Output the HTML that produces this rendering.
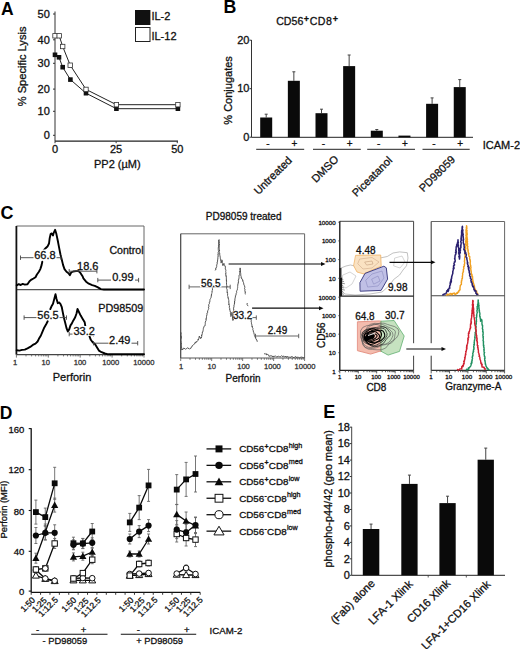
<!DOCTYPE html>
<html><head><meta charset="utf-8"><style>
html,body{margin:0;padding:0;background:#fff;width:520px;height:649px;overflow:hidden}
svg{display:block}
text{font-family:"Liberation Sans", sans-serif;stroke-width:0.3px;stroke-linejoin:round}
</style></head><body>
<svg width="520" height="649" viewBox="0 0 520 649" font-family='"Liberation Sans", sans-serif'>
<rect width="520" height="649" fill="#fff"/>
<text x="1.10" y="14.95" font-size="17.5" text-anchor="start" font-weight="bold" fill="#000" stroke="none">A</text>
<line x1="55" y1="11.5" x2="55" y2="141.2" stroke="#333" stroke-width="1"/>
<line x1="55" y1="141.2" x2="178" y2="141.2" stroke="#222" stroke-width="1.2"/>
<line x1="53" y1="135.3" x2="55" y2="135.3" stroke="#333" stroke-width="1"/>
<text x="49.85" y="139.20" font-size="11" text-anchor="end" font-weight="normal" fill="#111" stroke="#111">0</text>
<line x1="53" y1="111.3" x2="55" y2="111.3" stroke="#333" stroke-width="1"/>
<text x="49.85" y="115.20" font-size="11" text-anchor="end" font-weight="normal" fill="#111" stroke="#111">10</text>
<line x1="53" y1="89.1" x2="55" y2="89.1" stroke="#333" stroke-width="1"/>
<text x="49.85" y="93.00" font-size="11" text-anchor="end" font-weight="normal" fill="#111" stroke="#111">20</text>
<line x1="53" y1="63.3" x2="55" y2="63.3" stroke="#333" stroke-width="1"/>
<text x="49.85" y="67.20" font-size="11" text-anchor="end" font-weight="normal" fill="#111" stroke="#111">30</text>
<line x1="53" y1="39.8" x2="55" y2="39.8" stroke="#333" stroke-width="1"/>
<text x="49.85" y="43.70" font-size="11" text-anchor="end" font-weight="normal" fill="#111" stroke="#111">40</text>
<line x1="53" y1="14.0" x2="55" y2="14.0" stroke="#333" stroke-width="1"/>
<text x="49.85" y="17.90" font-size="11" text-anchor="end" font-weight="normal" fill="#111" stroke="#111">50</text>
<line x1="55.0" y1="141.2" x2="55.0" y2="143.2" stroke="#333" stroke-width="1"/>
<text x="55.00" y="152.60" font-size="11" text-anchor="middle" font-weight="normal" fill="#111" stroke="#111">0</text>
<line x1="116.125" y1="141.2" x2="116.125" y2="143.2" stroke="#333" stroke-width="1"/>
<text x="116.12" y="152.60" font-size="11" text-anchor="middle" font-weight="normal" fill="#111" stroke="#111">25</text>
<line x1="177.25" y1="141.2" x2="177.25" y2="143.2" stroke="#333" stroke-width="1"/>
<text x="177.25" y="152.60" font-size="11" text-anchor="middle" font-weight="normal" fill="#111" stroke="#111">50</text>
<text x="117.30" y="167.80" font-size="11" text-anchor="middle" font-weight="normal" fill="#111" stroke="#111">PP2 (&#181;M)</text>
<text x="25.55" y="66.40" font-size="11.1" text-anchor="middle" font-weight="normal" fill="#111" stroke="#111" transform="rotate(-90 25.55 66.40)">% Specific Lysis</text>
<polyline points="55.0,35.8 59.2,35.8 62.7,46.5 70.2,65.2 86.0,89.4 116.4,104.7 177.9,104.7" stroke="#222" stroke-width="1" fill="none" stroke-linejoin="round" stroke-linecap="round"/>
<polyline points="55.0,54.8 59.0,57.3 62.7,67.2 70.4,79.6 86.0,93.2 116.4,108.7 177.9,108.7" stroke="#222" stroke-width="1" fill="none" stroke-linejoin="round" stroke-linecap="round"/>
<rect x="52.7" y="52.5" width="4.6" height="4.6" fill="#111" stroke="none" stroke-width="1"/>
<rect x="56.7" y="55.0" width="4.6" height="4.6" fill="#111" stroke="none" stroke-width="1"/>
<rect x="60.400000000000006" y="64.9" width="4.6" height="4.6" fill="#111" stroke="none" stroke-width="1"/>
<rect x="68.10000000000001" y="77.3" width="4.6" height="4.6" fill="#111" stroke="none" stroke-width="1"/>
<rect x="83.7" y="90.9" width="4.6" height="4.6" fill="#111" stroke="none" stroke-width="1"/>
<rect x="114.10000000000001" y="106.4" width="4.6" height="4.6" fill="#111" stroke="none" stroke-width="1"/>
<rect x="175.6" y="106.4" width="4.6" height="4.6" fill="#111" stroke="none" stroke-width="1"/>
<rect x="52.8" y="33.599999999999994" width="4.4" height="4.4" fill="#fff" stroke="#333" stroke-width="0.8"/>
<rect x="57.0" y="33.599999999999994" width="4.4" height="4.4" fill="#fff" stroke="#333" stroke-width="0.8"/>
<rect x="60.5" y="44.3" width="4.4" height="4.4" fill="#fff" stroke="#333" stroke-width="0.8"/>
<rect x="68.0" y="63.0" width="4.4" height="4.4" fill="#fff" stroke="#333" stroke-width="0.8"/>
<rect x="83.8" y="87.2" width="4.4" height="4.4" fill="#fff" stroke="#333" stroke-width="0.8"/>
<rect x="114.2" y="102.5" width="4.4" height="4.4" fill="#fff" stroke="#333" stroke-width="0.8"/>
<rect x="175.70000000000002" y="102.5" width="4.4" height="4.4" fill="#fff" stroke="#333" stroke-width="0.8"/>
<rect x="135" y="10" width="15.4" height="15" fill="#111" stroke="none" stroke-width="1"/>
<rect x="135.5" y="27.5" width="14.5" height="14" fill="#fff" stroke="#222" stroke-width="1"/>
<text x="151.40" y="19.75" font-size="11" text-anchor="start" font-weight="normal" fill="#111" stroke="#111">IL-2</text>
<text x="151.45" y="39.55" font-size="11" text-anchor="start" font-weight="normal" fill="#111" stroke="#111">IL-12</text>
<text x="223.60" y="13.10" font-size="17.8" text-anchor="start" font-weight="bold" fill="#000" stroke="none">B</text>
<text x="276.2" y="25.3" font-size="10.6" fill="#111" stroke="#111">CD56<tspan font-size="9" font-weight="bold" dy="-3.4" dx="0.4">+</tspan><tspan dy="3.4" dx="0.7" letter-spacing="0.5">CD8</tspan><tspan font-size="9" font-weight="bold" dy="-3.4" dx="0.4">+</tspan></text>
<line x1="251.5" y1="40" x2="251.5" y2="137.3" stroke="#333" stroke-width="1"/>
<line x1="251.5" y1="137.3" x2="473" y2="137.3" stroke="#222" stroke-width="1"/>
<line x1="249.5" y1="137.2" x2="251.5" y2="137.2" stroke="#333" stroke-width="1"/>
<text x="249.45" y="140.90" font-size="11" text-anchor="end" font-weight="normal" fill="#111" stroke="#111">0</text>
<line x1="249.5" y1="88.69999999999999" x2="251.5" y2="88.69999999999999" stroke="#333" stroke-width="1"/>
<text x="249.45" y="92.40" font-size="11" text-anchor="end" font-weight="normal" fill="#111" stroke="#111">10</text>
<line x1="249.5" y1="40.19999999999999" x2="251.5" y2="40.19999999999999" stroke="#333" stroke-width="1"/>
<text x="249.45" y="43.90" font-size="11" text-anchor="end" font-weight="normal" fill="#111" stroke="#111">20</text>
<text x="232.10" y="90.40" font-size="11" text-anchor="middle" font-weight="normal" fill="#111" stroke="#111" transform="rotate(-90 232.10 90.40)">% Conjugates</text>
<line x1="266.2" y1="114.2" x2="266.2" y2="117.5" stroke="#444" stroke-width="1"/>
<line x1="264.7" y1="114.2" x2="267.7" y2="114.2" stroke="#444" stroke-width="1"/>
<rect x="260.2" y="117.5" width="12" height="19.80000000000001" fill="#0a0a0a" stroke="none" stroke-width="1"/>
<text x="268.00" y="146.60" font-size="10" text-anchor="middle" font-weight="normal" fill="#111" stroke="#111">-</text>
<line x1="293.84999999999997" y1="71.8" x2="293.84999999999997" y2="80.8" stroke="#444" stroke-width="1"/>
<line x1="292.34999999999997" y1="71.8" x2="295.34999999999997" y2="71.8" stroke="#444" stroke-width="1"/>
<rect x="287.84999999999997" y="80.8" width="12" height="56.500000000000014" fill="#0a0a0a" stroke="none" stroke-width="1"/>
<text x="294.35" y="146.60" font-size="10" text-anchor="middle" font-weight="normal" fill="#111" stroke="#111">+</text>
<line x1="321.5" y1="109.2" x2="321.5" y2="113.2" stroke="#444" stroke-width="1"/>
<line x1="320.0" y1="109.2" x2="323.0" y2="109.2" stroke="#444" stroke-width="1"/>
<rect x="315.5" y="113.2" width="12" height="24.10000000000001" fill="#0a0a0a" stroke="none" stroke-width="1"/>
<text x="323.30" y="146.60" font-size="10" text-anchor="middle" font-weight="normal" fill="#111" stroke="#111">-</text>
<line x1="349.15" y1="55" x2="349.15" y2="66.1" stroke="#444" stroke-width="1"/>
<line x1="347.65" y1="55" x2="350.65" y2="55" stroke="#444" stroke-width="1"/>
<rect x="343.15" y="66.1" width="12" height="71.20000000000002" fill="#0a0a0a" stroke="none" stroke-width="1"/>
<text x="349.65" y="146.60" font-size="10" text-anchor="middle" font-weight="normal" fill="#111" stroke="#111">+</text>
<line x1="376.79999999999995" y1="129.5" x2="376.79999999999995" y2="130.7" stroke="#444" stroke-width="1"/>
<line x1="375.29999999999995" y1="129.5" x2="378.29999999999995" y2="129.5" stroke="#444" stroke-width="1"/>
<rect x="370.79999999999995" y="130.7" width="12" height="6.600000000000023" fill="#0a0a0a" stroke="none" stroke-width="1"/>
<text x="378.60" y="146.60" font-size="10" text-anchor="middle" font-weight="normal" fill="#111" stroke="#111">-</text>
<rect x="398.45" y="135.6" width="12" height="1.700000000000017" fill="#0a0a0a" stroke="none" stroke-width="1"/>
<text x="404.95" y="146.60" font-size="10" text-anchor="middle" font-weight="normal" fill="#111" stroke="#111">+</text>
<line x1="432.09999999999997" y1="97.9" x2="432.09999999999997" y2="103.8" stroke="#444" stroke-width="1"/>
<line x1="430.59999999999997" y1="97.9" x2="433.59999999999997" y2="97.9" stroke="#444" stroke-width="1"/>
<rect x="426.09999999999997" y="103.8" width="12" height="33.500000000000014" fill="#0a0a0a" stroke="none" stroke-width="1"/>
<text x="433.90" y="146.60" font-size="10" text-anchor="middle" font-weight="normal" fill="#111" stroke="#111">-</text>
<line x1="459.75" y1="79.6" x2="459.75" y2="87.1" stroke="#444" stroke-width="1"/>
<line x1="458.25" y1="79.6" x2="461.25" y2="79.6" stroke="#444" stroke-width="1"/>
<rect x="453.75" y="87.1" width="12" height="50.20000000000002" fill="#0a0a0a" stroke="none" stroke-width="1"/>
<text x="460.25" y="146.60" font-size="10" text-anchor="middle" font-weight="normal" fill="#111" stroke="#111">+</text>
<line x1="256.2" y1="149.3" x2="304.2" y2="149.3" stroke="#222" stroke-width="1"/>
<line x1="313" y1="149.3" x2="360.8" y2="149.3" stroke="#222" stroke-width="1"/>
<line x1="367.2" y1="149.3" x2="415" y2="149.3" stroke="#222" stroke-width="1"/>
<line x1="422.5" y1="149.3" x2="469.7" y2="149.3" stroke="#222" stroke-width="1"/>
<text x="482.75" y="148.85" font-size="11" text-anchor="start" font-weight="normal" fill="#111" stroke="#111">ICAM-2</text>
<text x="292.55" y="161.15" font-size="11" text-anchor="end" font-weight="normal" fill="#111" stroke="#111" transform="rotate(-45 292.55 161.15)">Untreated</text>
<text x="339.25" y="160.00" font-size="11" text-anchor="end" font-weight="normal" fill="#111" stroke="#111" transform="rotate(-45 339.25 160.00)">DMSO</text>
<text x="392.90" y="161.00" font-size="11" text-anchor="end" font-weight="normal" fill="#111" stroke="#111" transform="rotate(-45 392.90 161.00)">Piceatanol</text>
<text x="455.95" y="160.15" font-size="11" text-anchor="end" font-weight="normal" fill="#111" stroke="#111" transform="rotate(-45 455.95 160.15)">PD98059</text>
<text x="0.53" y="219.30" font-size="18" text-anchor="start" font-weight="bold" fill="#000" stroke="none">C</text>
<line x1="16.4" y1="226" x2="144" y2="226" stroke="#666" stroke-width="1"/>
<line x1="144" y1="226" x2="144" y2="354.6" stroke="#666" stroke-width="1"/>
<line x1="16.4" y1="289.6" x2="144" y2="289.6" stroke="#555" stroke-width="1.2"/>
<line x1="16.4" y1="354.6" x2="144" y2="354.6" stroke="#444" stroke-width="1.2"/>
<line x1="16.4" y1="226" x2="16.4" y2="354.6" stroke="#111" stroke-width="1.8"/>
<line x1="16.4" y1="354.6" x2="16.4" y2="357.6" stroke="#555" stroke-width="0.8"/>
<line x1="26.002856861680996" y1="354.6" x2="26.002856861680996" y2="356.40000000000003" stroke="#555" stroke-width="0.8"/>
<line x1="31.620168025557227" y1="354.6" x2="31.620168025557227" y2="356.40000000000003" stroke="#555" stroke-width="0.8"/>
<line x1="35.605713723362" y1="354.6" x2="35.605713723362" y2="356.40000000000003" stroke="#555" stroke-width="0.8"/>
<line x1="38.697143138319" y1="354.6" x2="38.697143138319" y2="356.40000000000003" stroke="#555" stroke-width="0.8"/>
<line x1="41.223024887238225" y1="354.6" x2="41.223024887238225" y2="356.40000000000003" stroke="#555" stroke-width="0.8"/>
<line x1="43.358627476454785" y1="354.6" x2="43.358627476454785" y2="356.40000000000003" stroke="#555" stroke-width="0.8"/>
<line x1="45.20857058504299" y1="354.6" x2="45.20857058504299" y2="356.40000000000003" stroke="#555" stroke-width="0.8"/>
<line x1="46.84033605111446" y1="354.6" x2="46.84033605111446" y2="356.40000000000003" stroke="#555" stroke-width="0.8"/>
<line x1="48.3" y1="354.6" x2="48.3" y2="357.6" stroke="#555" stroke-width="0.8"/>
<line x1="57.902856861681" y1="354.6" x2="57.902856861681" y2="356.40000000000003" stroke="#555" stroke-width="0.8"/>
<line x1="63.520168025557226" y1="354.6" x2="63.520168025557226" y2="356.40000000000003" stroke="#555" stroke-width="0.8"/>
<line x1="67.50571372336199" y1="354.6" x2="67.50571372336199" y2="356.40000000000003" stroke="#555" stroke-width="0.8"/>
<line x1="70.59714313831898" y1="354.6" x2="70.59714313831898" y2="356.40000000000003" stroke="#555" stroke-width="0.8"/>
<line x1="73.12302488723823" y1="354.6" x2="73.12302488723823" y2="356.40000000000003" stroke="#555" stroke-width="0.8"/>
<line x1="75.25862747645479" y1="354.6" x2="75.25862747645479" y2="356.40000000000003" stroke="#555" stroke-width="0.8"/>
<line x1="77.108570585043" y1="354.6" x2="77.108570585043" y2="356.40000000000003" stroke="#555" stroke-width="0.8"/>
<line x1="78.74033605111445" y1="354.6" x2="78.74033605111445" y2="356.40000000000003" stroke="#555" stroke-width="0.8"/>
<line x1="80.19999999999999" y1="354.6" x2="80.19999999999999" y2="357.6" stroke="#555" stroke-width="0.8"/>
<line x1="89.802856861681" y1="354.6" x2="89.802856861681" y2="356.40000000000003" stroke="#555" stroke-width="0.8"/>
<line x1="95.42016802555725" y1="354.6" x2="95.42016802555725" y2="356.40000000000003" stroke="#555" stroke-width="0.8"/>
<line x1="99.405713723362" y1="354.6" x2="99.405713723362" y2="356.40000000000003" stroke="#555" stroke-width="0.8"/>
<line x1="102.49714313831899" y1="354.6" x2="102.49714313831899" y2="356.40000000000003" stroke="#555" stroke-width="0.8"/>
<line x1="105.02302488723822" y1="354.6" x2="105.02302488723822" y2="356.40000000000003" stroke="#555" stroke-width="0.8"/>
<line x1="107.1586274764548" y1="354.6" x2="107.1586274764548" y2="356.40000000000003" stroke="#555" stroke-width="0.8"/>
<line x1="109.008570585043" y1="354.6" x2="109.008570585043" y2="356.40000000000003" stroke="#555" stroke-width="0.8"/>
<line x1="110.64033605111445" y1="354.6" x2="110.64033605111445" y2="356.40000000000003" stroke="#555" stroke-width="0.8"/>
<line x1="112.1" y1="354.6" x2="112.1" y2="357.6" stroke="#555" stroke-width="0.8"/>
<line x1="121.702856861681" y1="354.6" x2="121.702856861681" y2="356.40000000000003" stroke="#555" stroke-width="0.8"/>
<line x1="127.32016802555722" y1="354.6" x2="127.32016802555722" y2="356.40000000000003" stroke="#555" stroke-width="0.8"/>
<line x1="131.305713723362" y1="354.6" x2="131.305713723362" y2="356.40000000000003" stroke="#555" stroke-width="0.8"/>
<line x1="134.397143138319" y1="354.6" x2="134.397143138319" y2="356.40000000000003" stroke="#555" stroke-width="0.8"/>
<line x1="136.92302488723823" y1="354.6" x2="136.92302488723823" y2="356.40000000000003" stroke="#555" stroke-width="0.8"/>
<line x1="139.0586274764548" y1="354.6" x2="139.0586274764548" y2="356.40000000000003" stroke="#555" stroke-width="0.8"/>
<line x1="140.908570585043" y1="354.6" x2="140.908570585043" y2="356.40000000000003" stroke="#555" stroke-width="0.8"/>
<line x1="142.54033605111445" y1="354.6" x2="142.54033605111445" y2="356.40000000000003" stroke="#555" stroke-width="0.8"/>
<line x1="144.0" y1="354.6" x2="144.0" y2="357.6" stroke="#555" stroke-width="0.8"/>
<text x="15.00" y="365.10" font-size="7.6" text-anchor="middle" font-weight="normal" fill="#333" stroke="#333">1</text>
<text x="45.80" y="365.10" font-size="7.6" text-anchor="middle" font-weight="normal" fill="#333" stroke="#333">10</text>
<text x="80.00" y="365.10" font-size="7.6" text-anchor="middle" font-weight="normal" fill="#333" stroke="#333">100</text>
<text x="110.80" y="365.10" font-size="7.6" text-anchor="middle" font-weight="normal" fill="#333" stroke="#333">1000</text>
<text x="143.80" y="365.10" font-size="7.6" text-anchor="middle" font-weight="normal" fill="#333" stroke="#333">10000</text>
<text x="72.05" y="380.65" font-size="11" text-anchor="middle" font-weight="normal" fill="#111" stroke="#111">Perforin</text>
<text x="143.55" y="253.85" font-size="10.6" text-anchor="end" font-weight="normal" fill="#111" stroke="#111">Control</text>
<text x="143.35" y="312.35" font-size="10.8" text-anchor="end" font-weight="normal" fill="#111" stroke="#111">PD98509</text>
<polyline points="16.7,285.3 18.7,284.2 20.7,285.0 22.7,283.9 24.8,284.6 27.5,284.2 29.5,281.2 31.5,279.6 33.5,278.5 35.5,277.2 36.9,274.5 38.9,271.8 40.3,269.1 41.6,265.1 42.3,261.7" stroke="#000" stroke-width="1.9" fill="none" stroke-linejoin="round" stroke-linecap="round"/>
<polyline points="43.6,250.3 45.6,248.2 47.7,246.2 49.0,243.5 49.7,238.2 50.6,234.1 51.7,233.4 53.0,235.5 53.7,232.8 55.1,229.8 56.4,234.1 57.8,240.8 59.1,247.6 60.4,254.3 61.8,259.7 63.1,265.1 64.5,269.1 66.5,271.8 68.5,273.2 69.9,275.2 71.2,272.5 73.2,271.5 75.9,271.1 78.6,271.1 80.6,273.2 82.7,276.5 83.4,278.4 86.1,281.7 88.8,283.7 92.2,285.1 94.8,285.8 97.5,287.1 100.9,289.1 104.0,289.5 144.0,289.5" stroke="#000" stroke-width="1.9" fill="none" stroke-linejoin="round" stroke-linecap="round"/>
<polyline points="16.7,350.3 19.4,350.6 22.1,349.9 24.8,349.6 27.5,348.3 30.2,346.9 32.8,344.9 35.5,343.6 37.6,341.5 38.9,338.8 40.9,335.5 42.3,332.1 44.3,327.4 46.3,324.0 47.7,321.3" stroke="#000" stroke-width="1.9" fill="none" stroke-linejoin="round" stroke-linecap="round"/>
<polyline points="50.3,309.2 51.7,305.9 53.0,303.8 54.4,298.5 55.5,294.2 56.4,298.5 57.8,303.2 59.1,302.5 60.4,303.8 61.8,307.2 62.7,311.9 63.8,317.3 65.2,322.7 66.5,328.1 67.8,331.4 69.2,329.4 70.5,325.4 71.9,323.4 73.2,320.7 75.2,317.3 76.6,313.3 77.5,309.0 78.7,311.5 80.7,315.6 82.7,318.9 84.7,322.3 85.4,326.3" stroke="#000" stroke-width="1.9" fill="none" stroke-linejoin="round" stroke-linecap="round"/>
<polyline points="89.5,336.4 90.8,339.8 92.8,342.5 94.8,343.8 96.9,347.2 98.9,350.6 101.6,352.2 104.9,353.5 108.3,354.3 144.0,354.3" stroke="#000" stroke-width="1.9" fill="none" stroke-linejoin="round" stroke-linecap="round"/>
<line x1="20.5" y1="257.7" x2="61.1" y2="257.7" stroke="#444" stroke-width="0.9"/>
<line x1="20.5" y1="255.5" x2="20.5" y2="259.9" stroke="#444" stroke-width="0.9"/>
<line x1="61.1" y1="255.5" x2="61.1" y2="259.9" stroke="#444" stroke-width="0.9"/>
<rect x="33.5" y="249.5" width="23" height="10" fill="#fff" stroke="none" stroke-width="1"/>
<text x="44.95" y="259.05" font-size="11" text-anchor="middle" font-weight="normal" fill="#111" stroke="#111">66.8</text>
<line x1="69.2" y1="271.2" x2="96.9" y2="271.2" stroke="#444" stroke-width="0.9"/>
<line x1="69.2" y1="269.0" x2="69.2" y2="273.4" stroke="#444" stroke-width="0.9"/>
<line x1="96.9" y1="269.0" x2="96.9" y2="273.4" stroke="#444" stroke-width="0.9"/>
<text x="87.75" y="269.75" font-size="11" text-anchor="middle" font-weight="normal" fill="#111" stroke="#111">18.6</text>
<line x1="97.8" y1="280.1" x2="138.6" y2="280.1" stroke="#444" stroke-width="0.9"/>
<line x1="97.8" y1="277.90000000000003" x2="97.8" y2="282.3" stroke="#444" stroke-width="0.9"/>
<line x1="138.6" y1="277.90000000000003" x2="138.6" y2="282.3" stroke="#444" stroke-width="0.9"/>
<rect x="111" y="272" width="24" height="10" fill="#fff" stroke="none" stroke-width="1"/>
<text x="122.90" y="281.00" font-size="11" text-anchor="middle" font-weight="normal" fill="#111" stroke="#111">0.99</text>
<line x1="24.1" y1="317.6" x2="66.5" y2="317.6" stroke="#444" stroke-width="0.9"/>
<line x1="24.1" y1="315.40000000000003" x2="24.1" y2="319.8" stroke="#444" stroke-width="0.9"/>
<line x1="66.5" y1="315.40000000000003" x2="66.5" y2="319.8" stroke="#444" stroke-width="0.9"/>
<rect x="36.5" y="310" width="23" height="10" fill="#fff" stroke="none" stroke-width="1"/>
<text x="48.00" y="318.65" font-size="11" text-anchor="middle" font-weight="normal" fill="#111" stroke="#111">56.5</text>
<line x1="69.2" y1="334.1" x2="93.5" y2="334.1" stroke="#444" stroke-width="0.9"/>
<line x1="69.2" y1="331.90000000000003" x2="69.2" y2="336.3" stroke="#444" stroke-width="0.9"/>
<line x1="93.5" y1="331.90000000000003" x2="93.5" y2="336.3" stroke="#444" stroke-width="0.9"/>
<rect x="72.5" y="326" width="22" height="10" fill="#fff" stroke="none" stroke-width="1"/>
<text x="84.20" y="335.05" font-size="11" text-anchor="middle" font-weight="normal" fill="#111" stroke="#111">33.2</text>
<line x1="93.5" y1="343.2" x2="137.7" y2="343.2" stroke="#444" stroke-width="0.9"/>
<line x1="93.5" y1="341.0" x2="93.5" y2="345.4" stroke="#444" stroke-width="0.9"/>
<line x1="137.7" y1="341.0" x2="137.7" y2="345.4" stroke="#444" stroke-width="0.9"/>
<rect x="108.5" y="335" width="23" height="10" fill="#fff" stroke="none" stroke-width="1"/>
<text x="119.80" y="343.60" font-size="11" text-anchor="middle" font-weight="normal" fill="#111" stroke="#111">2.49</text>
<text x="243.65" y="219.90" font-size="10" text-anchor="middle" font-weight="normal" fill="#111" stroke="#111">PD98059 treated</text>
<line x1="180.7" y1="233.8" x2="304.6" y2="233.8" stroke="#666" stroke-width="1"/>
<line x1="304.6" y1="233.8" x2="304.6" y2="358" stroke="#666" stroke-width="1"/>
<line x1="180.7" y1="358" x2="304.6" y2="358" stroke="#555" stroke-width="1"/>
<line x1="180.7" y1="233.8" x2="180.7" y2="358" stroke="#444" stroke-width="1.2"/>
<line x1="180.7" y1="358" x2="180.7" y2="361" stroke="#555" stroke-width="0.8"/>
<line x1="190.02440411569182" y1="358" x2="190.02440411569182" y2="359.8" stroke="#555" stroke-width="0.8"/>
<line x1="195.47883086494153" y1="358" x2="195.47883086494153" y2="359.8" stroke="#555" stroke-width="0.8"/>
<line x1="199.34880823138363" y1="358" x2="199.34880823138363" y2="359.8" stroke="#555" stroke-width="0.8"/>
<line x1="202.35059588430818" y1="358" x2="202.35059588430818" y2="359.8" stroke="#555" stroke-width="0.8"/>
<line x1="204.80323498063336" y1="358" x2="204.80323498063336" y2="359.8" stroke="#555" stroke-width="0.8"/>
<line x1="206.8769117894416" y1="358" x2="206.8769117894416" y2="359.8" stroke="#555" stroke-width="0.8"/>
<line x1="208.67321234707543" y1="358" x2="208.67321234707543" y2="359.8" stroke="#555" stroke-width="0.8"/>
<line x1="210.2576617298831" y1="358" x2="210.2576617298831" y2="359.8" stroke="#555" stroke-width="0.8"/>
<line x1="211.675" y1="358" x2="211.675" y2="361" stroke="#555" stroke-width="0.8"/>
<line x1="220.99940411569182" y1="358" x2="220.99940411569182" y2="359.8" stroke="#555" stroke-width="0.8"/>
<line x1="226.45383086494155" y1="358" x2="226.45383086494155" y2="359.8" stroke="#555" stroke-width="0.8"/>
<line x1="230.32380823138365" y1="358" x2="230.32380823138365" y2="359.8" stroke="#555" stroke-width="0.8"/>
<line x1="233.3255958843082" y1="358" x2="233.3255958843082" y2="359.8" stroke="#555" stroke-width="0.8"/>
<line x1="235.77823498063336" y1="358" x2="235.77823498063336" y2="359.8" stroke="#555" stroke-width="0.8"/>
<line x1="237.8519117894416" y1="358" x2="237.8519117894416" y2="359.8" stroke="#555" stroke-width="0.8"/>
<line x1="239.64821234707546" y1="358" x2="239.64821234707546" y2="359.8" stroke="#555" stroke-width="0.8"/>
<line x1="241.2326617298831" y1="358" x2="241.2326617298831" y2="359.8" stroke="#555" stroke-width="0.8"/>
<line x1="242.65" y1="358" x2="242.65" y2="361" stroke="#555" stroke-width="0.8"/>
<line x1="251.9744041156918" y1="358" x2="251.9744041156918" y2="359.8" stroke="#555" stroke-width="0.8"/>
<line x1="257.4288308649416" y1="358" x2="257.4288308649416" y2="359.8" stroke="#555" stroke-width="0.8"/>
<line x1="261.29880823138365" y1="358" x2="261.29880823138365" y2="359.8" stroke="#555" stroke-width="0.8"/>
<line x1="264.3005958843082" y1="358" x2="264.3005958843082" y2="359.8" stroke="#555" stroke-width="0.8"/>
<line x1="266.75323498063335" y1="358" x2="266.75323498063335" y2="359.8" stroke="#555" stroke-width="0.8"/>
<line x1="268.8269117894416" y1="358" x2="268.8269117894416" y2="359.8" stroke="#555" stroke-width="0.8"/>
<line x1="270.6232123470755" y1="358" x2="270.6232123470755" y2="359.8" stroke="#555" stroke-width="0.8"/>
<line x1="272.2076617298831" y1="358" x2="272.2076617298831" y2="359.8" stroke="#555" stroke-width="0.8"/>
<line x1="273.625" y1="358" x2="273.625" y2="361" stroke="#555" stroke-width="0.8"/>
<line x1="282.94940411569183" y1="358" x2="282.94940411569183" y2="359.8" stroke="#555" stroke-width="0.8"/>
<line x1="288.4038308649416" y1="358" x2="288.4038308649416" y2="359.8" stroke="#555" stroke-width="0.8"/>
<line x1="292.27380823138367" y1="358" x2="292.27380823138367" y2="359.8" stroke="#555" stroke-width="0.8"/>
<line x1="295.2755958843082" y1="358" x2="295.2755958843082" y2="359.8" stroke="#555" stroke-width="0.8"/>
<line x1="297.7282349806334" y1="358" x2="297.7282349806334" y2="359.8" stroke="#555" stroke-width="0.8"/>
<line x1="299.80191178944165" y1="358" x2="299.80191178944165" y2="359.8" stroke="#555" stroke-width="0.8"/>
<line x1="301.59821234707545" y1="358" x2="301.59821234707545" y2="359.8" stroke="#555" stroke-width="0.8"/>
<line x1="303.1826617298831" y1="358" x2="303.1826617298831" y2="359.8" stroke="#555" stroke-width="0.8"/>
<line x1="304.6" y1="358" x2="304.6" y2="361" stroke="#555" stroke-width="0.8"/>
<text x="181.00" y="368.60" font-size="7.6" text-anchor="middle" font-weight="normal" fill="#333" stroke="#333">1</text>
<text x="211.80" y="368.60" font-size="7.6" text-anchor="middle" font-weight="normal" fill="#333" stroke="#333">10</text>
<text x="243.50" y="368.60" font-size="7.6" text-anchor="middle" font-weight="normal" fill="#333" stroke="#333">100</text>
<text x="272.40" y="368.60" font-size="7.6" text-anchor="middle" font-weight="normal" fill="#333" stroke="#333">1000</text>
<text x="305.00" y="368.60" font-size="7.6" text-anchor="middle" font-weight="normal" fill="#333" stroke="#333">10000</text>
<text x="243.00" y="382.40" font-size="10" text-anchor="middle" font-weight="normal" fill="#111" stroke="#111">Perforin</text>
<polyline points="181.0,332.6 181.3,333.1 181.0,333.8 180.9,334.3 181.1,335.3 180.8,335.2 180.9,336.6 181.2,336.1 181.4,338.0 181.2,338.1 180.9,337.9 181.2,338.5 181.0,339.4 180.9,340.3 181.2,341.4 181.2,341.7 181.2,342.4 181.2,342.4 181.5,344.1 181.5,344.3 181.2,344.2 181.2,344.6 181.5,345.6 181.5,346.2 181.6,347.5 181.1,347.2 181.6,348.1 181.6,348.6 181.1,349.6 181.6,349.7 181.8,349.3 183.0,349.5 183.2,348.3 183.8,348.3 184.9,348.6 185.4,349.2 185.9,349.2 186.5,348.6 187.2,347.9 187.9,347.9 189.0,348.8 189.3,349.1 189.9,348.6 190.8,348.4 190.9,348.3 191.4,346.8 192.3,346.4 192.4,345.5 192.7,345.6 193.2,345.1 193.7,344.4 194.5,343.9 194.7,343.9 195.0,342.4 195.9,342.8 196.1,341.5 196.8,342.0 197.0,341.5 197.9,340.5 198.2,339.3 198.2,340.0 198.5,339.1 198.7,338.7 199.1,337.3 199.1,337.4 199.3,336.1 199.8,337.5 200.1,337.3 200.6,337.7 200.3,338.3 200.9,338.6 200.9,338.4 201.2,337.5 201.3,337.9 201.7,337.0 201.7,336.3 201.6,334.9 201.6,335.6 202.2,335.0 201.9,334.0 202.3,333.5 202.4,333.3 202.3,332.0 202.8,331.9 203.0,331.0 203.1,330.7 203.0,329.8 203.4,329.4 203.3,328.7 203.7,327.8 203.7,326.9 204.1,326.6 204.2,326.0 205.2,325.6 205.2,324.3 205.3,324.0 205.3,323.7 205.2,323.0 205.3,322.2 205.7,321.1 206.0,320.8 206.1,320.8 206.0,318.9 206.2,319.2 206.2,317.9 206.7,317.9 206.5,317.6 206.5,316.6 206.5,315.6 206.9,315.6 207.0,314.2 206.9,313.4 206.9,313.1 207.5,313.0 207.6,312.6 207.6,310.9 207.9,310.5 207.9,310.1 208.4,309.6 208.3,309.5 208.8,308.3 208.4,307.1 208.9,306.5 208.9,306.6 208.8,306.3 208.7,304.7 209.1,304.0 209.4,303.6 209.1,302.7 209.5,302.7 209.6,302.3 209.8,302.1 209.9,300.5 210.0,299.9 209.9,299.7 210.5,298.8 210.5,298.4 210.9,298.1 211.1,297.9 211.0,297.3 211.4,295.7 211.5,295.9 211.2,294.9 211.6,295.0 211.5,293.9 211.9,293.6 212.0,292.5 212.0,291.5 212.1,291.7 212.2,291.0 212.0,290.6 212.6,290.1 212.4,289.1 212.4,288.6 212.8,287.2 212.5,286.7 212.9,286.4 213.0,285.4" stroke="#444" stroke-width="0.9" fill="none" stroke-linejoin="round" stroke-linecap="round"/>
<polyline points="215.4,270.1 215.7,269.6 215.9,269.1 215.7,269.4 215.8,267.9 216.1,268.1 216.5,267.5 216.7,266.6 216.8,265.4 216.5,265.4 216.7,265.1 217.0,264.2 217.2,263.6 217.0,262.8 217.4,262.9 217.1,262.2 217.7,261.1 217.5,260.0 217.6,259.8 217.8,258.6 218.1,258.6 217.8,258.4 217.9,257.4 218.0,256.2 218.0,256.0 218.3,256.1 217.9,254.9 217.9,254.2 218.3,254.3 218.2,252.9 218.1,252.7 218.5,251.4 218.5,250.6 218.2,250.3 218.5,249.8 218.3,249.6 218.2,249.1 218.3,248.2 218.4,247.1 218.6,246.8 218.5,246.2 218.6,245.2 218.5,245.3 218.8,244.5 218.9,244.0 218.9,242.8 218.9,243.0 219.0,241.7 218.7,241.9 218.7,241.4 219.1,239.6 218.8,241.0 218.8,240.8 219.2,241.9 219.2,242.1 219.0,243.5 218.8,243.4 219.2,245.0 219.4,244.5 219.1,246.1 219.2,246.6 219.0,246.3 219.0,246.9 219.3,248.2 219.3,248.3 219.1,249.0 219.5,250.7 219.6,250.1 219.1,251.9 219.4,252.3 219.4,252.5 219.6,253.0 219.7,253.0 219.8,254.8 219.6,254.8 220.0,255.4 219.8,255.6 220.0,256.0 220.3,257.7 220.3,258.4 220.4,258.4 220.5,259.1 220.8,260.1 220.5,260.9 220.8,261.3 221.0,261.4 221.1,262.6 221.1,263.1 221.4,261.9 221.7,260.7 221.7,260.6 221.8,259.8 222.3,260.8 222.1,261.8 222.4,261.6 222.5,262.5 222.5,262.8 222.8,263.8 222.8,264.6 223.0,264.1 222.9,265.7 223.1,264.8 223.4,264.0 224.0,263.4 224.2,265.2 224.5,265.2 225.0,265.9 225.2,266.5 225.3,266.3 225.4,267.9 225.2,268.7 225.4,268.7 225.4,269.4 225.7,269.4 225.9,270.5 225.7,271.4 225.7,271.6 225.9,272.6 225.7,273.4 225.8,273.1 225.8,273.8 225.8,275.4 225.9,276.2 226.2,275.7 226.4,277.5 225.9,278.1 226.1,278.1 226.5,278.4 226.3,280.0 226.4,280.0 226.6,281.1 226.4,280.8 226.5,281.9 226.3,282.0 226.5,282.7 226.5,284.1 226.5,284.2 226.6,285.0 226.8,285.8 227.0,287.0 226.9,286.7 226.5,288.2 227.0,288.5 226.8,288.6 227.1,289.6 227.1,290.4 227.2,290.4 227.1,292.1 227.5,292.6 227.1,292.1 227.3,293.2 227.6,293.4 227.7,294.0 227.5,295.4 227.9,296.0 227.9,296.4 227.9,296.8 228.3,298.2 228.0,297.8 228.5,299.1 228.6,299.2 228.5,299.9 228.8,300.6 228.8,302.1 228.7,302.1 229.0,303.3 228.9,303.2 228.8,304.5 228.9,304.0 229.2,305.2 229.4,305.6 229.5,305.9 229.3,307.3 229.3,307.4 229.8,308.6 229.6,308.5 229.7,309.9 229.8,309.7 230.1,310.9 230.3,312.0 230.4,311.9 230.5,312.4 230.3,313.1 230.7,314.4 230.5,314.3 230.6,314.9 230.7,315.5 230.7,316.4 231.2,315.7 231.4,315.1 231.2,314.7 231.7,313.3 231.4,313.0 231.8,312.4 232.1,313.1 232.1,312.9 232.1,314.6 231.9,314.2 232.4,316.0 232.1,316.2 232.2,317.0 232.6,316.9 232.4,318.3 232.7,318.9 232.7,318.9 233.1,320.0 232.9,320.5 233.1,320.1 233.2,319.0 233.2,318.8 233.3,318.4 233.3,317.9 233.4,316.9 233.2,316.4 233.4,315.4 233.3,314.4 233.5,315.0 233.3,313.2 233.3,312.9 233.4,313.1 233.3,311.5 233.4,311.4 233.8,310.1 233.4,309.9 233.8,309.9 233.5,308.2 233.6,307.7 233.7,307.8 234.0,306.5 233.8,306.0 233.9,306.0 234.1,305.1 234.4,304.4 234.2,304.3 234.7,302.9 234.5,303.2 234.6,301.5 234.4,301.9 234.9,300.5 234.9,300.0 234.8,300.1 235.1,298.4 234.8,298.1 235.1,297.9 235.5,297.0 235.3,295.8 235.6,295.4 236.0,295.1 236.1,295.2 236.0,293.9 236.1,293.7 236.2,293.1 236.8,292.6 236.5,291.2 237.0,290.3 236.9,290.2 237.3,289.8 237.4,288.8 237.5,288.3 237.7,287.3 237.7,286.8 237.7,286.7 237.6,286.5 237.8,285.1 237.7,284.5 238.1,284.4 238.1,283.8 238.0,282.7 238.3,282.9 238.6,281.9 238.2,280.8 238.7,280.0 238.7,279.7 238.5,279.8 239.0,278.1 239.0,277.6 239.0,277.3 239.0,276.4 239.1,276.2 239.1,275.0 239.5,274.5 239.7,274.2 239.7,273.3 239.8,272.3 239.5,271.7 239.9,271.9 239.7,270.9 240.1,270.5 239.8,269.4 239.9,268.6 240.1,267.9 240.5,269.0 240.3,269.9 240.5,270.8 240.4,270.7 240.5,270.9 240.5,272.4 240.9,273.2 240.8,273.5 240.5,273.7 240.8,274.8 240.7,275.0 241.0,276.2 241.2,276.5 240.9,277.4 241.6,277.6 241.6,278.1 241.7,279.0 242.5,279.3 242.6,280.3 242.6,281.0 243.1,280.6 243.0,281.3 243.5,282.6 243.6,283.6 243.8,283.5 243.9,284.9 244.1,285.4 244.5,285.6 244.6,285.8 244.8,287.4 244.8,287.5 244.5,288.4 244.7,289.1 244.7,289.2 245.1,289.3 245.0,289.8 244.8,290.5 245.3,292.2 245.2,291.9 245.3,293.1 245.2,293.5 245.3,294.0" stroke="#444" stroke-width="0.9" fill="none" stroke-linejoin="round" stroke-linecap="round"/>
<polyline points="247.2,303.4 247.1,304.6 247.4,305.1 247.9,305.8" stroke="#444" stroke-width="0.9" fill="none" stroke-linejoin="round" stroke-linecap="round"/>
<polyline points="250.4,317.1 250.5,317.9 250.7,318.6 250.8,318.8 251.0,319.5 251.3,320.8 251.1,321.1 251.3,322.1 251.5,322.8 251.5,323.8 251.8,324.2 251.7,324.2 251.9,325.5 252.0,325.5 252.1,326.7 252.2,326.1 252.5,327.9 252.7,328.1 252.9,328.3 252.9,328.6 252.8,329.7 253.2,330.3 253.1,331.3 253.5,331.3 253.5,332.1 253.7,332.3 254.2,334.2 254.3,334.7 254.4,335.2 254.5,335.8 254.9,336.7 254.9,337.1 255.1,337.4 255.8,337.3 255.6,338.3 256.0,338.5 256.6,340.1 256.6,340.1 257.0,340.2 257.2,341.4" stroke="#444" stroke-width="0.9" fill="none" stroke-linejoin="round" stroke-linecap="round"/>
<polyline points="264.5,353.8 265.2,353.5 266.1,354.5 266.4,353.7 266.8,355.0 267.6,354.3 268.1,354.9 268.5,354.9 269.2,356.4 269.5,356.0 270.1,356.5 270.7,355.5 271.7,355.9 272.4,356.8 272.9,355.9 273.6,357.1 274.1,356.0 274.6,356.3 275.5,356.1 275.8,356.1 276.7,356.9 277.1,356.7 278.0,356.6 278.3,356.1 279.3,356.6 279.5,356.6 280.1,357.0 280.9,356.3 281.5,355.7 282.2,356.1 282.6,356.9 283.1,356.2 284.1,356.2 284.4,356.6 285.0,357.2 286.0,356.0 286.3,357.1 286.9,357.4 287.6,356.4 288.2,357.1 288.7,357.1 289.6,357.0 290.0,357.5 290.7,357.1 291.5,356.6 292.0,356.6 292.5,356.7 293.0,357.5 293.8,357.5 294.1,357.1 294.7,357.3 295.5,356.5 296.1,357.5 296.7,357.8 297.1,356.8 297.6,357.3 298.5,357.2 299.0,357.7 299.5,357.9 300.4,357.4 301.1,357.0 301.4,357.1 301.9,357.2 302.9,357.5 303.3,357.6 304.0,357.5" stroke="#444" stroke-width="0.9" fill="none" stroke-linejoin="round" stroke-linecap="round"/>
<line x1="189.1" y1="286.9" x2="230.2" y2="286.9" stroke="#555" stroke-width="0.9"/>
<line x1="189.1" y1="284.7" x2="189.1" y2="289.09999999999997" stroke="#555" stroke-width="0.9"/>
<line x1="230.2" y1="284.7" x2="230.2" y2="289.09999999999997" stroke="#555" stroke-width="0.9"/>
<rect x="200" y="279" width="21.5" height="8.5" fill="#fff" stroke="none" stroke-width="1"/>
<text x="210.85" y="287.25" font-size="10" text-anchor="middle" font-weight="normal" fill="#111" stroke="#111">56.5</text>
<line x1="233" y1="317.6" x2="256.3" y2="317.6" stroke="#555" stroke-width="0.9"/>
<line x1="233" y1="315.40000000000003" x2="233" y2="319.8" stroke="#555" stroke-width="0.9"/>
<line x1="256.3" y1="315.40000000000003" x2="256.3" y2="319.8" stroke="#555" stroke-width="0.9"/>
<rect x="233.5" y="310.5" width="19" height="8.5" fill="#fff" stroke="none" stroke-width="1"/>
<text x="242.70" y="318.60" font-size="10" text-anchor="middle" font-weight="normal" fill="#111" stroke="#111">33.2</text>
<line x1="255.5" y1="336" x2="298.7" y2="336" stroke="#555" stroke-width="0.9"/>
<line x1="255.5" y1="333.8" x2="255.5" y2="338.2" stroke="#555" stroke-width="0.9"/>
<line x1="298.7" y1="333.8" x2="298.7" y2="338.2" stroke="#555" stroke-width="0.9"/>
<rect x="267" y="326" width="21" height="9" fill="#fff" stroke="none" stroke-width="1"/>
<text x="277.50" y="334.15" font-size="10" text-anchor="middle" font-weight="normal" fill="#111" stroke="#111">2.49</text>
<polygon points="341.0,268.0 346.0,266.0 350.4,265.0 355.0,266.0 362.0,262.0 370.0,260.0 380.0,258.0 387.3,256.5 393.0,253.0 399.6,251.9 407.3,252.7 408.0,258.0 406.5,265.8 403.0,270.0 399.6,275.0 393.5,279.6 390.0,285.0 382.0,292.0 370.0,294.0 355.0,295.0 345.0,294.0 341.0,290.0" stroke="#999" stroke-width="0.6" fill="none" stroke-linejoin="round" stroke-linecap="round"/>
<polygon points="343.0,275.0 350.0,272.0 356.0,276.0 352.0,284.0 346.0,288.0 342.0,286.0" stroke="#aaa" stroke-width="0.5" fill="none" stroke-linejoin="round" stroke-linecap="round"/>
<polygon points="395.0,258.0 402.0,256.0 405.0,262.0 400.0,268.0 394.0,266.0" stroke="#aaa" stroke-width="0.5" fill="none" stroke-linejoin="round" stroke-linecap="round"/>
<polygon points="356.0,255.3 380.7,255.0 381.2,266.2 372.0,270.0 364.0,274.0 357.0,272.0 353.8,266.0" stroke="#f0b060" stroke-width="0.8" fill="#fae2c2" stroke-linejoin="round" stroke-linecap="round"/>
<polygon points="360.0,259.0 372.0,257.5 379.0,262.0 372.0,268.0 363.0,269.0 358.0,264.0" stroke="#c8a080" stroke-width="0.5" fill="none" stroke-linejoin="round" stroke-linecap="round"/>
<polygon points="365.0,262.0 372.0,261.0 373.0,264.0 367.0,265.0" stroke="#b89070" stroke-width="0.5" fill="none" stroke-linejoin="round" stroke-linecap="round"/>
<polygon points="360.1,282.3 365.0,273.4 383.9,266.2 386.3,267.8 387.6,279.1 381.1,290.4 360.5,291.2" stroke="#303078" stroke-width="0.9" fill="#c0c0e6" stroke-linejoin="round" stroke-linecap="round"/>
<polygon points="366.0,280.0 372.0,274.0 382.0,271.0 384.0,278.0 378.0,286.0 368.0,287.0" stroke="#8080b8" stroke-width="0.5" fill="none" stroke-linejoin="round" stroke-linecap="round"/>
<polygon points="372.0,279.0 378.0,276.0 380.0,281.0 374.0,284.0" stroke="#8080b8" stroke-width="0.5" fill="none" stroke-linejoin="round" stroke-linecap="round"/>
<rect x="339.5" y="277.5" width="2.6" height="18.5" fill="#111" stroke="none" stroke-width="1"/>
<rect x="339.5" y="268" width="2.0" height="9.5" fill="#444" stroke="none" stroke-width="1"/>
<line x1="341.8" y1="279.0" x2="343.3" y2="279.6" stroke="#666" stroke-width="0.7"/>
<line x1="341.8" y1="281.1" x2="344.1" y2="281.70000000000005" stroke="#666" stroke-width="0.7"/>
<line x1="341.8" y1="283.2" x2="344.90000000000003" y2="283.8" stroke="#666" stroke-width="0.7"/>
<line x1="341.8" y1="285.3" x2="343.3" y2="285.90000000000003" stroke="#666" stroke-width="0.7"/>
<line x1="341.8" y1="287.4" x2="344.1" y2="288.0" stroke="#666" stroke-width="0.7"/>
<line x1="341.8" y1="289.5" x2="344.90000000000003" y2="290.1" stroke="#666" stroke-width="0.7"/>
<line x1="341.8" y1="291.6" x2="343.3" y2="292.20000000000005" stroke="#666" stroke-width="0.7"/>
<line x1="341.8" y1="293.7" x2="344.1" y2="294.3" stroke="#666" stroke-width="0.7"/>
<polygon points="357.8,321.8 379.3,320.9 381.3,321.2 381.3,351.4 379.3,351.4 370.6,354.1 357.8,350.8" stroke="#e08070" stroke-width="0.8" fill="#f4bcae" stroke-linejoin="round" stroke-linecap="round"/>
<polygon points="381.3,321.2 394.1,320.5 404.2,336.0 399.5,351.4 388.1,355.1 381.3,351.4" stroke="#60b070" stroke-width="0.8" fill="#c6e2c0" stroke-linejoin="round" stroke-linecap="round"/>
<polygon points="398.8,331.7 398.3,334.9 396.4,338.0 393.2,340.4 390.2,342.4 388.2,345.0 385.6,348.1 381.4,349.8 376.9,349.8 372.7,349.5 368.4,349.2 365.1,347.5 363.5,344.7 362.7,342.0 361.6,339.6 360.9,337.0 360.6,334.0 360.7,330.7 362.8,327.4 367.2,325.5 372.1,325.1 376.0,324.4 379.9,323.2 384.0,323.2 387.4,324.4 390.8,325.5 394.7,326.6 397.7,328.7" stroke="#555" stroke-width="0.6" fill="none" stroke-linejoin="round" stroke-linecap="round"/>
<polygon points="395.4,332.3 394.9,335.1 394.5,337.9 393.7,340.9 390.9,343.3 386.6,344.4 382.9,345.1 379.8,346.5 376.3,347.8 372.3,348.5 368.3,348.3 364.7,347.1 362.7,344.7 362.2,341.9 361.6,339.5 360.9,337.0 361.9,334.3 364.2,332.1 366.0,329.7 367.5,326.7 370.6,324.2 374.9,323.3 379.0,323.7 382.6,324.5 385.5,325.7 388.1,327.1 391.1,328.2 394.1,329.8" stroke="#555" stroke-width="0.6" fill="none" stroke-linejoin="round" stroke-linecap="round"/>
<polygon points="392.5,332.8 393.0,335.2 392.0,337.8 390.6,340.3 388.6,342.6 385.4,344.1 381.7,344.6 378.6,345.0 375.6,346.4 371.8,347.6 368.2,347.2 365.5,345.7 363.4,343.9 362.2,341.7 362.0,339.2 362.3,336.9 362.7,334.6 364.0,332.3 366.1,330.3 368.2,328.2 370.6,325.7 374.2,324.1 378.0,324.7 381.0,326.0 383.7,326.9 386.6,327.7 388.9,329.0 390.8,330.7" stroke="#555" stroke-width="0.6" fill="none" stroke-linejoin="round" stroke-linecap="round"/>
<polygon points="390.2,333.1 390.0,335.4 388.1,337.5 386.1,339.3 385.0,341.2 383.5,343.3 381.0,345.0 378.0,346.3 374.6,346.8 371.6,346.1 369.3,344.8 367.1,343.7 364.8,342.6 363.4,340.9 363.2,338.9 362.8,336.9 362.0,334.6 362.5,332.2 365.0,330.2 368.2,329.0 371.2,328.2 374.0,327.7 376.8,327.4 379.8,326.9 383.1,326.7 385.8,327.6 387.5,329.4 388.9,331.2" stroke="#222" stroke-width="0.8" fill="none" stroke-linejoin="round" stroke-linecap="round"/>
<polygon points="387.0,333.7 386.9,335.6 385.9,337.4 384.6,339.1 383.2,340.8 381.4,342.2 379.2,343.5 376.8,344.9 373.9,345.8 371.1,345.4 369.2,343.8 367.6,342.6 365.7,341.7 364.0,340.4 363.3,338.7 363.1,336.9 363.0,334.9 363.9,332.9 365.7,331.2 368.0,329.7 370.6,328.8 373.3,328.6 375.8,328.8 378.2,328.5 381.2,328.0 384.0,328.5 385.5,330.0 386.3,331.9" stroke="#222" stroke-width="0.8" fill="none" stroke-linejoin="round" stroke-linecap="round"/>
<polygon points="384.6,334.0 384.8,335.7 384.2,337.4 382.8,338.9 381.3,340.3 379.5,341.4 377.5,342.1 375.5,342.9 373.2,343.9 370.6,344.5 368.4,343.8 367.0,342.3 366.0,341.0 364.8,339.8 364.3,338.4 364.4,336.8 364.6,335.2 365.1,333.6 366.3,332.0 368.0,330.6 370.0,329.4 372.5,328.8 374.8,329.3 376.7,329.9 378.7,330.1 381.1,330.2 383.0,331.0 384.0,332.5" stroke="#000" stroke-width="1.1" fill="none" stroke-linejoin="round" stroke-linecap="round"/>
<polygon points="381.5,334.6 381.2,335.9 380.5,337.2 380.0,338.4 379.6,339.9 378.5,341.3 376.5,342.1 374.4,342.3 372.5,342.4 370.6,342.4 368.9,341.9 367.7,341.1 366.5,340.2 365.4,339.3 364.6,338.2 364.1,336.8 364.2,335.3 365.2,333.9 367.0,332.9 368.9,332.3 370.3,331.4 371.9,330.5 373.8,330.2 375.7,330.3 377.6,330.5 379.4,330.9 380.7,331.9 381.3,333.2" stroke="#000" stroke-width="1.1" fill="none" stroke-linejoin="round" stroke-linecap="round"/>
<polygon points="379.2,334.9 379.5,336.0 379.3,337.2 378.7,338.3 377.4,339.2 375.9,339.8 374.5,340.3 373.2,340.9 371.7,341.4 370.2,341.3 368.8,341.0 367.4,340.6 366.1,340.0 365.6,339.0 365.6,337.8 365.8,336.7 366.2,335.7 366.8,334.7 367.3,333.6 368.1,332.5 369.5,331.7 371.2,331.5 372.8,331.5 374.3,331.5 375.7,331.8 376.8,332.5 377.5,333.3 378.4,334.1" stroke="#000" stroke-width="1.1" fill="none" stroke-linejoin="round" stroke-linecap="round"/>
<polygon points="377.0,335.3 377.0,336.2 376.5,337.0 375.8,337.8 375.0,338.5 374.1,339.0 373.2,339.5 372.1,340.0 371.0,340.2 369.9,340.2 368.7,340.0 367.6,339.8 366.8,339.2 366.6,338.3 366.7,337.4 366.7,336.7 366.6,335.9 366.9,335.1 367.5,334.2 368.3,333.5 369.4,333.0 370.6,332.8 371.8,332.7 372.9,332.7 373.9,333.0 374.6,333.6 375.3,334.1 376.2,334.6" stroke="#000" stroke-width="1.1" fill="none" stroke-linejoin="round" stroke-linecap="round"/>
<polygon points="373.8,335.8 373.9,336.3 373.9,336.9 373.6,337.5 373.1,338.0 372.5,338.5 371.8,338.8 371.0,339.0 370.3,338.8 369.6,338.8 368.8,338.8 368.1,338.7 367.5,338.3 367.1,337.8 366.9,337.3 367.0,336.7 367.2,336.1 367.6,335.6 368.0,335.1 368.6,334.7 369.3,334.4 370.0,334.1 370.8,333.7 371.6,333.7 372.3,334.1 372.8,334.5 373.2,334.9 373.6,335.3" stroke="#000" stroke-width="1.1" fill="none" stroke-linejoin="round" stroke-linecap="round"/>
<ellipse cx="369.5" cy="337" rx="5.5" ry="2.6" fill="#000" transform="rotate(-18 369.5 337)"/>
<line x1="368" y1="335.5" x2="375" y2="333.2" stroke="#fff" stroke-width="0.9"/>
<line x1="339.8" y1="221.3" x2="413.6" y2="221.3" stroke="#444" stroke-width="1"/>
<line x1="413.6" y1="221.3" x2="413.6" y2="370.4" stroke="#444" stroke-width="1"/>
<line x1="339.8" y1="296.1" x2="413.6" y2="296.1" stroke="#222" stroke-width="1.2"/>
<line x1="339.8" y1="370.4" x2="413.6" y2="370.4" stroke="#222" stroke-width="1.2"/>
<line x1="339.8" y1="221.3" x2="339.8" y2="370.4" stroke="#111" stroke-width="1.3"/>
<text x="335.65" y="224.60" font-size="6.2" text-anchor="end" font-weight="normal" fill="#111" stroke="#111">10000</text>
<line x1="338.3" y1="222.2" x2="339.8" y2="222.2" stroke="#333" stroke-width="0.8"/>
<text x="335.65" y="243.30" font-size="6.2" text-anchor="end" font-weight="normal" fill="#111" stroke="#111">1000</text>
<line x1="338.3" y1="240.89999999999998" x2="339.8" y2="240.89999999999998" stroke="#333" stroke-width="0.8"/>
<text x="335.65" y="262.00" font-size="6.2" text-anchor="end" font-weight="normal" fill="#111" stroke="#111">100</text>
<line x1="338.3" y1="259.59999999999997" x2="339.8" y2="259.59999999999997" stroke="#333" stroke-width="0.8"/>
<text x="335.65" y="280.70" font-size="6.2" text-anchor="end" font-weight="normal" fill="#111" stroke="#111">10</text>
<line x1="338.3" y1="278.29999999999995" x2="339.8" y2="278.29999999999995" stroke="#333" stroke-width="0.8"/>
<text x="335.65" y="299.60" font-size="6.2" text-anchor="end" font-weight="normal" fill="#111" stroke="#111">10000</text>
<line x1="338.3" y1="297.2" x2="339.8" y2="297.2" stroke="#333" stroke-width="0.8"/>
<text x="335.65" y="318.10" font-size="6.2" text-anchor="end" font-weight="normal" fill="#111" stroke="#111">1000</text>
<line x1="338.3" y1="315.7" x2="339.8" y2="315.7" stroke="#333" stroke-width="0.8"/>
<text x="335.65" y="336.60" font-size="6.2" text-anchor="end" font-weight="normal" fill="#111" stroke="#111">100</text>
<line x1="338.3" y1="334.2" x2="339.8" y2="334.2" stroke="#333" stroke-width="0.8"/>
<text x="335.65" y="355.10" font-size="6.2" text-anchor="end" font-weight="normal" fill="#111" stroke="#111">10</text>
<line x1="338.3" y1="352.7" x2="339.8" y2="352.7" stroke="#333" stroke-width="0.8"/>
<text x="335.65" y="373.60" font-size="6.2" text-anchor="end" font-weight="normal" fill="#111" stroke="#111">1</text>
<line x1="338.3" y1="371.2" x2="339.8" y2="371.2" stroke="#333" stroke-width="0.8"/>
<line x1="339.8" y1="370.4" x2="339.8" y2="373.4" stroke="#333" stroke-width="0.8"/>
<line x1="345.3540034200005" y1="370.4" x2="345.3540034200005" y2="372.2" stroke="#333" stroke-width="0.8"/>
<line x1="348.6028871495778" y1="370.4" x2="348.6028871495778" y2="372.2" stroke="#333" stroke-width="0.8"/>
<line x1="350.9080068400009" y1="370.4" x2="350.9080068400009" y2="372.2" stroke="#333" stroke-width="0.8"/>
<line x1="352.6959965799996" y1="370.4" x2="352.6959965799996" y2="372.2" stroke="#333" stroke-width="0.8"/>
<line x1="354.15689056957825" y1="370.4" x2="354.15689056957825" y2="372.2" stroke="#333" stroke-width="0.8"/>
<line x1="355.39205883826304" y1="370.4" x2="355.39205883826304" y2="372.2" stroke="#333" stroke-width="0.8"/>
<line x1="356.46201026000136" y1="370.4" x2="356.46201026000136" y2="372.2" stroke="#333" stroke-width="0.8"/>
<line x1="357.40577429915555" y1="370.4" x2="357.40577429915555" y2="372.2" stroke="#333" stroke-width="0.8"/>
<line x1="358.25" y1="370.4" x2="358.25" y2="373.4" stroke="#333" stroke-width="0.8"/>
<line x1="363.80400342000047" y1="370.4" x2="363.80400342000047" y2="372.2" stroke="#333" stroke-width="0.8"/>
<line x1="367.05288714957777" y1="370.4" x2="367.05288714957777" y2="372.2" stroke="#333" stroke-width="0.8"/>
<line x1="369.35800684000094" y1="370.4" x2="369.35800684000094" y2="372.2" stroke="#333" stroke-width="0.8"/>
<line x1="371.1459965799996" y1="370.4" x2="371.1459965799996" y2="372.2" stroke="#333" stroke-width="0.8"/>
<line x1="372.60689056957824" y1="370.4" x2="372.60689056957824" y2="372.2" stroke="#333" stroke-width="0.8"/>
<line x1="373.84205883826303" y1="370.4" x2="373.84205883826303" y2="372.2" stroke="#333" stroke-width="0.8"/>
<line x1="374.91201026000135" y1="370.4" x2="374.91201026000135" y2="372.2" stroke="#333" stroke-width="0.8"/>
<line x1="375.85577429915554" y1="370.4" x2="375.85577429915554" y2="372.2" stroke="#333" stroke-width="0.8"/>
<line x1="376.70000000000005" y1="370.4" x2="376.70000000000005" y2="373.4" stroke="#333" stroke-width="0.8"/>
<line x1="382.25400342000046" y1="370.4" x2="382.25400342000046" y2="372.2" stroke="#333" stroke-width="0.8"/>
<line x1="385.5028871495778" y1="370.4" x2="385.5028871495778" y2="372.2" stroke="#333" stroke-width="0.8"/>
<line x1="387.8080068400009" y1="370.4" x2="387.8080068400009" y2="372.2" stroke="#333" stroke-width="0.8"/>
<line x1="389.59599657999956" y1="370.4" x2="389.59599657999956" y2="372.2" stroke="#333" stroke-width="0.8"/>
<line x1="391.05689056957823" y1="370.4" x2="391.05689056957823" y2="372.2" stroke="#333" stroke-width="0.8"/>
<line x1="392.2920588382631" y1="370.4" x2="392.2920588382631" y2="372.2" stroke="#333" stroke-width="0.8"/>
<line x1="393.3620102600014" y1="370.4" x2="393.3620102600014" y2="372.2" stroke="#333" stroke-width="0.8"/>
<line x1="394.3057742991556" y1="370.4" x2="394.3057742991556" y2="372.2" stroke="#333" stroke-width="0.8"/>
<line x1="395.15000000000003" y1="370.4" x2="395.15000000000003" y2="373.4" stroke="#333" stroke-width="0.8"/>
<line x1="400.7040034200005" y1="370.4" x2="400.7040034200005" y2="372.2" stroke="#333" stroke-width="0.8"/>
<line x1="403.9528871495778" y1="370.4" x2="403.9528871495778" y2="372.2" stroke="#333" stroke-width="0.8"/>
<line x1="406.2580068400009" y1="370.4" x2="406.2580068400009" y2="372.2" stroke="#333" stroke-width="0.8"/>
<line x1="408.04599657999955" y1="370.4" x2="408.04599657999955" y2="372.2" stroke="#333" stroke-width="0.8"/>
<line x1="409.5068905695782" y1="370.4" x2="409.5068905695782" y2="372.2" stroke="#333" stroke-width="0.8"/>
<line x1="410.74205883826306" y1="370.4" x2="410.74205883826306" y2="372.2" stroke="#333" stroke-width="0.8"/>
<line x1="411.8120102600014" y1="370.4" x2="411.8120102600014" y2="372.2" stroke="#333" stroke-width="0.8"/>
<line x1="412.7557742991556" y1="370.4" x2="412.7557742991556" y2="372.2" stroke="#333" stroke-width="0.8"/>
<line x1="413.6" y1="370.4" x2="413.6" y2="373.4" stroke="#333" stroke-width="0.8"/>
<text x="339.60" y="379.20" font-size="6" text-anchor="middle" font-weight="normal" fill="#111" stroke="#111">1</text>
<text x="358.10" y="379.20" font-size="6" text-anchor="middle" font-weight="normal" fill="#111" stroke="#111">10</text>
<text x="376.20" y="379.20" font-size="6" text-anchor="middle" font-weight="normal" fill="#111" stroke="#111">100</text>
<text x="393.80" y="379.20" font-size="6" text-anchor="middle" font-weight="normal" fill="#111" stroke="#111">1000</text>
<text x="411.50" y="379.20" font-size="6" text-anchor="middle" font-weight="normal" fill="#111" stroke="#111">10000</text>
<text x="376.40" y="391.10" font-size="10" text-anchor="middle" font-weight="normal" fill="#111" stroke="#111">CD8</text>
<text x="324.60" y="335.10" font-size="10" text-anchor="middle" font-weight="normal" fill="#111" stroke="#111" transform="rotate(-90 324.60 335.10)">CD56</text>
<text x="365.85" y="253.60" font-size="10" text-anchor="middle" font-weight="normal" fill="#111" stroke="#111">4.48</text>
<text x="397.75" y="291.20" font-size="10" text-anchor="middle" font-weight="normal" fill="#111" stroke="#111">9.98</text>
<text x="364.90" y="320.40" font-size="10" text-anchor="middle" font-weight="normal" fill="#111" stroke="#111">64.8</text>
<text x="394.80" y="319.15" font-size="10" text-anchor="middle" font-weight="normal" fill="#111" stroke="#111">30.7</text>
<line x1="431.2" y1="221.5" x2="504.6" y2="221.5" stroke="#666" stroke-width="1"/>
<line x1="504.6" y1="221.5" x2="504.6" y2="370.4" stroke="#666" stroke-width="1"/>
<line x1="431.2" y1="295.8" x2="504.6" y2="295.8" stroke="#444" stroke-width="1.1"/>
<line x1="431.2" y1="370.4" x2="504.6" y2="370.4" stroke="#333" stroke-width="1.1"/>
<line x1="431.2" y1="221.5" x2="431.2" y2="370.4" stroke="#444" stroke-width="1.1"/>
<line x1="431.2" y1="370.4" x2="431.2" y2="373.4" stroke="#333" stroke-width="0.8"/>
<line x1="436.72390042043406" y1="370.4" x2="436.72390042043406" y2="372.2" stroke="#333" stroke-width="0.8"/>
<line x1="439.9551750241058" y1="370.4" x2="439.9551750241058" y2="372.2" stroke="#333" stroke-width="0.8"/>
<line x1="442.2478008408681" y1="370.4" x2="442.2478008408681" y2="372.2" stroke="#333" stroke-width="0.8"/>
<line x1="444.02609957956594" y1="370.4" x2="444.02609957956594" y2="372.2" stroke="#333" stroke-width="0.8"/>
<line x1="445.47907544453983" y1="370.4" x2="445.47907544453983" y2="372.2" stroke="#333" stroke-width="0.8"/>
<line x1="446.7075490342616" y1="370.4" x2="446.7075490342616" y2="372.2" stroke="#333" stroke-width="0.8"/>
<line x1="447.77170126130216" y1="370.4" x2="447.77170126130216" y2="372.2" stroke="#333" stroke-width="0.8"/>
<line x1="448.7103500482116" y1="370.4" x2="448.7103500482116" y2="372.2" stroke="#333" stroke-width="0.8"/>
<line x1="449.55" y1="370.4" x2="449.55" y2="373.4" stroke="#333" stroke-width="0.8"/>
<line x1="455.07390042043403" y1="370.4" x2="455.07390042043403" y2="372.2" stroke="#333" stroke-width="0.8"/>
<line x1="458.3051750241058" y1="370.4" x2="458.3051750241058" y2="372.2" stroke="#333" stroke-width="0.8"/>
<line x1="460.5978008408681" y1="370.4" x2="460.5978008408681" y2="372.2" stroke="#333" stroke-width="0.8"/>
<line x1="462.37609957956596" y1="370.4" x2="462.37609957956596" y2="372.2" stroke="#333" stroke-width="0.8"/>
<line x1="463.82907544453985" y1="370.4" x2="463.82907544453985" y2="372.2" stroke="#333" stroke-width="0.8"/>
<line x1="465.0575490342616" y1="370.4" x2="465.0575490342616" y2="372.2" stroke="#333" stroke-width="0.8"/>
<line x1="466.1217012613022" y1="370.4" x2="466.1217012613022" y2="372.2" stroke="#333" stroke-width="0.8"/>
<line x1="467.0603500482116" y1="370.4" x2="467.0603500482116" y2="372.2" stroke="#333" stroke-width="0.8"/>
<line x1="467.9" y1="370.4" x2="467.9" y2="373.4" stroke="#333" stroke-width="0.8"/>
<line x1="473.42390042043405" y1="370.4" x2="473.42390042043405" y2="372.2" stroke="#333" stroke-width="0.8"/>
<line x1="476.6551750241058" y1="370.4" x2="476.6551750241058" y2="372.2" stroke="#333" stroke-width="0.8"/>
<line x1="478.9478008408681" y1="370.4" x2="478.9478008408681" y2="372.2" stroke="#333" stroke-width="0.8"/>
<line x1="480.7260995795659" y1="370.4" x2="480.7260995795659" y2="372.2" stroke="#333" stroke-width="0.8"/>
<line x1="482.1790754445399" y1="370.4" x2="482.1790754445399" y2="372.2" stroke="#333" stroke-width="0.8"/>
<line x1="483.40754903426165" y1="370.4" x2="483.40754903426165" y2="372.2" stroke="#333" stroke-width="0.8"/>
<line x1="484.4717012613022" y1="370.4" x2="484.4717012613022" y2="372.2" stroke="#333" stroke-width="0.8"/>
<line x1="485.4103500482116" y1="370.4" x2="485.4103500482116" y2="372.2" stroke="#333" stroke-width="0.8"/>
<line x1="486.25" y1="370.4" x2="486.25" y2="373.4" stroke="#333" stroke-width="0.8"/>
<line x1="491.7739004204341" y1="370.4" x2="491.7739004204341" y2="372.2" stroke="#333" stroke-width="0.8"/>
<line x1="495.0051750241058" y1="370.4" x2="495.0051750241058" y2="372.2" stroke="#333" stroke-width="0.8"/>
<line x1="497.29780084086815" y1="370.4" x2="497.29780084086815" y2="372.2" stroke="#333" stroke-width="0.8"/>
<line x1="499.07609957956595" y1="370.4" x2="499.07609957956595" y2="372.2" stroke="#333" stroke-width="0.8"/>
<line x1="500.5290754445399" y1="370.4" x2="500.5290754445399" y2="372.2" stroke="#333" stroke-width="0.8"/>
<line x1="501.7575490342616" y1="370.4" x2="501.7575490342616" y2="372.2" stroke="#333" stroke-width="0.8"/>
<line x1="502.8217012613022" y1="370.4" x2="502.8217012613022" y2="372.2" stroke="#333" stroke-width="0.8"/>
<line x1="503.76035004821165" y1="370.4" x2="503.76035004821165" y2="372.2" stroke="#333" stroke-width="0.8"/>
<line x1="504.6" y1="370.4" x2="504.6" y2="373.4" stroke="#333" stroke-width="0.8"/>
<text x="431.00" y="379.40" font-size="6.2" text-anchor="middle" font-weight="normal" fill="#111" stroke="#111">1</text>
<text x="448.80" y="379.40" font-size="6.2" text-anchor="middle" font-weight="normal" fill="#111" stroke="#111">10</text>
<text x="467.00" y="379.40" font-size="6.2" text-anchor="middle" font-weight="normal" fill="#111" stroke="#111">100</text>
<text x="485.50" y="379.40" font-size="6.2" text-anchor="middle" font-weight="normal" fill="#111" stroke="#111">1000</text>
<text x="503.70" y="379.40" font-size="6.2" text-anchor="middle" font-weight="normal" fill="#111" stroke="#111">10000</text>
<text x="473.30" y="390.30" font-size="10" text-anchor="middle" font-weight="normal" fill="#111" stroke="#111">Granzyme-A</text>
<polyline points="446.6,295.2 447.3,294.1 447.9,294.8 448.9,294.9 449.0,294.2 449.8,293.8 450.8,293.4 451.1,294.7 452.1,293.5 452.3,294.5 452.6,293.6 453.8,293.3 454.0,293.6 454.6,293.1 455.0,294.7 456.1,294.2 456.3,293.3 457.0,292.8 457.4,293.5 457.9,292.0 458.8,292.0 458.6,291.1 459.5,290.0 459.4,290.6 460.0,289.8 460.1,289.0 459.9,289.0 460.0,288.3 460.1,287.0 460.2,286.7 460.3,285.5 460.5,285.4 460.7,284.8 461.4,284.6 461.4,283.2 461.2,282.3 461.5,282.2 461.3,281.0 461.4,280.8 461.6,281.4 462.0,279.6 461.8,278.8 462.4,278.6 462.3,278.6 462.5,276.7 462.2,276.8 462.2,277.1 462.4,276.3 462.7,274.4 462.7,274.1 462.5,273.3 463.1,272.5 463.0,272.6 463.2,271.5 463.4,271.1 463.5,271.2 463.2,269.8 463.4,270.1 463.6,268.9 464.0,268.0 463.6,267.6 463.7,266.5 463.6,266.9 464.1,266.7 464.5,265.1 464.3,265.7 464.1,264.6 464.5,264.5 464.7,262.6 464.6,261.8 464.5,261.7 464.3,261.1 464.6,260.7 464.6,259.4 464.7,259.4 464.6,259.1 464.7,257.5 464.8,257.4 464.7,257.1 465.1,256.4 465.2,254.9 465.0,254.9 464.8,254.3 464.8,253.9 465.3,253.2 465.1,252.2 464.9,251.7 465.6,251.5 465.2,251.1 465.2,250.1 465.5,250.4 465.4,249.1 465.9,248.8 465.7,247.9 465.6,246.9 465.5,247.0 466.0,245.6 466.1,244.4 465.5,244.6 465.7,243.7 466.2,242.8 465.6,242.3 466.0,241.7 465.6,241.7 465.9,240.5 465.9,240.7 466.0,240.0 466.0,239.8 466.4,238.3 465.9,238.7 465.9,237.8 466.2,237.1 466.4,236.8 465.9,235.8 466.1,235.1 466.1,234.0 466.4,233.9 466.0,232.7 466.1,232.0 466.3,231.3 466.0,230.6 466.0,231.2 466.0,230.1 466.5,229.6 466.1,229.7 466.7,227.6 466.2,227.8 466.6,227.0 466.6,226.2 466.6,225.7 466.4,225.9 466.8,226.6 466.6,226.5 466.7,227.5 466.9,228.4 466.4,228.3 466.8,228.6 466.5,228.8 466.8,231.1 467.1,230.3 466.9,231.4 466.9,232.0 467.2,233.7 466.5,233.8 466.6,233.2 466.8,235.1 467.3,234.6 466.9,235.1 467.0,236.5 467.0,236.8 467.3,238.4 466.9,238.2 467.2,239.5 467.5,239.4 467.3,240.3 467.4,240.2 467.0,240.8 467.6,241.6 467.3,242.0 467.2,242.5 467.5,243.3 467.6,244.2 467.4,245.2 467.5,245.5 467.4,245.8 468.0,246.8 467.5,247.3 467.9,249.4 467.8,249.8 468.0,249.6 468.3,250.2 467.9,251.1 468.4,251.8 468.3,253.0 468.8,253.7 468.6,254.0 469.0,253.4 468.6,254.0 468.7,254.4 469.0,256.2 469.1,256.3 469.0,256.4 469.8,256.6 469.6,258.7 469.9,259.1 469.7,259.9 470.1,260.4 470.2,259.8 470.3,261.0 470.2,261.3 470.4,261.5 470.2,262.5 470.2,263.3 470.4,264.7 470.3,265.0 470.4,265.0 470.8,265.6 470.3,266.3 470.9,266.7 471.0,267.9 471.0,267.8 470.6,268.4 470.9,269.5 470.7,270.2 471.1,270.5 471.3,272.2 471.2,272.7 471.4,273.1 471.3,274.1 471.6,274.7 471.6,274.3 472.0,274.5 471.8,276.0 472.4,276.0 472.0,276.7 472.7,276.9 472.5,277.9 472.6,278.2 472.7,280.1 473.0,280.2 472.8,280.7 472.6,281.8 473.2,281.7 473.3,282.2 473.3,282.5 473.6,283.7 473.6,283.3 473.9,284.6 474.0,285.5 474.4,285.3 474.2,287.3 474.5,286.7 474.7,288.5 474.6,288.9 474.5,289.7 475.1,288.9 475.6,290.2 476.0,291.1 476.2,291.1 476.6,290.9 476.8,292.7 476.7,293.4 477.1,293.5 477.7,293.5 477.7,294.6" stroke="#f0a020" stroke-width="1.4" fill="none" stroke-linejoin="round" stroke-linecap="round"/>
<polyline points="442.9,294.9 443.4,294.4 444.6,293.8 444.8,294.2 445.8,293.6 446.0,293.5 446.7,291.4 446.8,290.8 447.0,290.9 448.2,291.5 447.8,289.5 448.3,290.5 448.8,290.0 448.6,289.6 449.0,288.3 449.9,288.0 449.5,287.3 449.9,285.2 449.9,285.3 450.3,284.6 450.4,284.9 450.1,283.1 450.7,283.2 450.3,281.9 451.1,282.3 450.7,280.8 451.4,281.3 451.3,280.0 451.1,279.5 451.0,279.4 451.4,279.2 451.5,277.8 451.7,278.3 451.7,277.1 451.7,276.3 451.9,276.3 452.0,275.7 452.5,274.2 452.8,273.5 452.8,273.3 452.7,271.5 452.8,271.4 452.9,272.3 452.9,271.1 453.4,269.5 453.2,268.7 453.8,268.4 453.5,268.0 454.0,268.5 453.9,267.2 453.5,267.3 453.6,265.6 453.9,265.7 454.3,264.3 454.6,265.0 453.9,263.7 454.4,262.5 454.4,261.8 454.7,261.8 455.1,262.0 455.2,260.1 455.1,260.1 455.1,260.2 454.6,258.4 455.0,258.2 454.9,258.3 455.0,256.4 455.0,255.8 455.6,254.5 455.2,255.1 455.7,254.7 455.5,254.3 456.0,253.6 455.5,252.3 455.5,252.6 456.4,252.1 455.7,250.3 456.2,250.1 455.9,250.0 456.2,248.8 456.1,248.3 456.2,246.7 456.6,246.5 456.9,245.8 456.7,244.8 456.6,245.1 457.0,244.5 457.4,243.1 457.6,242.6 457.9,242.8 457.6,242.3 458.2,242.5 458.0,239.7 457.8,242.1 458.4,242.5 457.9,242.7 457.9,242.4 458.2,244.9 458.5,245.3 458.0,244.9 458.1,245.2 458.2,247.3 458.4,247.0 458.7,248.4 459.1,248.4 458.7,249.7 458.7,249.0 459.0,249.5 458.7,250.5 458.9,251.0 458.9,251.8 458.6,253.3 458.6,253.2 459.1,253.6 458.9,253.5 459.1,254.6 459.2,255.0 459.5,256.2 458.9,256.7 459.8,256.4 459.5,259.1 459.3,257.7 459.4,256.5 459.7,256.5 459.5,255.7 459.7,255.7 459.4,253.6 459.6,253.4 460.2,253.1 460.3,252.5 459.8,252.5 459.7,252.6 460.4,250.5 460.1,251.0 460.5,250.0 459.9,249.7 460.0,248.8 460.5,248.8 460.6,246.2 461.0,247.2 460.7,245.0 460.9,245.3 460.9,245.9 461.2,243.3 461.1,243.5 461.1,242.8 460.9,242.3 460.7,241.4 461.3,240.3 460.8,241.4 461.3,240.1 460.9,238.6 461.1,239.8 461.4,239.1 461.1,237.4 461.5,237.7 461.2,237.1 461.5,234.6 461.5,234.8 461.8,235.4 461.7,234.2 461.7,233.8 461.5,233.1 461.6,232.1 461.6,231.0 461.7,230.3 462.1,230.1 462.0,229.6 462.4,228.5 462.2,228.1 462.6,227.2 462.4,226.3 462.1,226.8 462.4,226.4 462.0,228.2 462.3,228.6 462.4,229.0 462.6,230.4 462.9,229.8 462.6,229.9 462.9,230.3 462.5,232.5 462.3,232.8 462.8,233.1 462.7,232.8 463.2,234.7 463.2,233.9 463.2,234.7 462.7,236.0 463.1,235.7 463.3,237.4 463.4,238.7 463.3,238.1 463.6,239.5 463.0,240.4 463.5,239.7 463.1,239.7 463.4,240.9 463.3,241.5 463.2,242.7 463.4,242.9 463.5,244.0 464.1,243.9 464.1,246.1 464.0,246.0 464.2,246.7 464.2,248.1 464.4,247.3 463.8,249.5 464.2,249.7 464.3,249.6 464.5,250.8 465.2,250.9 465.0,251.1 464.9,253.0 464.9,253.6 465.6,252.3 465.9,253.0 465.8,253.6 466.3,254.6 466.4,254.6 466.3,255.2 465.9,257.0 466.9,257.8 466.9,258.6 466.7,257.7 466.8,258.5 466.9,259.5 467.0,259.7 467.3,260.8 467.3,260.7 467.4,262.3 467.9,262.9 467.3,263.0 467.6,264.4 468.2,265.6 468.4,266.1 468.4,266.8 467.8,266.4 468.4,267.4 468.6,267.8 469.0,267.3 468.7,269.8 468.4,268.5 469.3,271.0 468.6,269.6 469.5,271.6 469.3,272.0 469.6,273.1 469.1,272.0 469.9,274.6 470.1,274.0 469.7,274.5 469.6,276.0 469.9,276.2 470.3,276.2 470.6,277.1 470.4,278.6 470.4,277.6 470.7,278.9 471.3,279.2 470.9,280.5 471.1,280.8 471.2,282.2 471.3,281.3 471.6,282.1 472.1,283.5 472.4,283.8 472.0,284.9 472.3,284.3 472.7,286.5 472.9,285.7 473.6,287.7 473.4,286.4 473.9,288.5 473.8,289.1 474.0,288.6 474.4,290.1 474.6,290.9 474.4,290.8 475.1,290.4 476.0,291.1 475.8,293.3 476.9,293.9 476.7,294.5 477.0,294.5 477.7,294.6" stroke="#2a2070" stroke-width="1.5" fill="none" stroke-linejoin="round" stroke-linecap="round"/>
<polyline points="466.5,369.2 466.5,369.8 467.6,369.7 468.2,368.9 468.3,368.0 468.8,369.2 469.1,367.6 469.9,367.1 470.0,366.7 470.1,366.7 470.6,366.2 470.9,365.5 471.3,364.1 470.9,363.5 471.2,364.2 471.8,363.1 471.4,362.2 471.8,361.5 472.0,362.2 471.9,360.9 472.3,360.1 471.9,360.3 472.6,358.1 472.6,358.2 472.1,357.2 472.3,357.6 472.5,355.7 472.6,356.5 472.9,355.7 472.9,354.2 472.7,353.8 472.8,353.1 473.3,352.7 473.2,352.6 473.2,351.5 473.7,351.3 473.4,350.6 473.5,349.6 473.9,348.8 474.0,349.3 474.0,347.5 473.8,348.3 473.7,346.3 474.1,345.8 474.1,345.0 474.4,344.6 473.8,344.7 474.1,343.9 474.3,344.0 474.3,342.4 474.0,342.0 474.3,341.5 474.6,340.7 474.3,340.2 474.6,339.8 475.0,338.6 474.7,337.6 475.0,337.3 475.1,337.7 474.8,337.3 475.0,335.8 475.1,336.1 475.1,334.7 475.1,334.7 475.3,333.2 475.1,332.4 475.6,332.8 475.8,332.4 475.6,331.6 475.7,331.0 475.8,329.2 475.9,328.9 475.5,329.3 475.4,328.0 475.7,327.9 475.9,327.5 476.2,326.4 475.6,325.8 475.7,325.8 476.3,323.9 475.8,324.0 476.3,323.9 476.2,321.7 476.4,321.0 476.5,321.7 476.5,321.2 476.4,320.7 476.5,319.3 476.3,318.4 476.1,317.5 476.7,317.0 476.7,317.3 476.7,316.3 476.5,315.2 476.5,315.3 476.9,315.2 476.7,314.6 477.2,312.8 477.3,312.8 477.3,312.5 476.9,311.0 477.1,310.8 476.8,310.9 477.3,309.6 477.5,308.5 477.1,308.5 477.2,307.5 477.1,306.4 477.4,306.6 477.9,306.3 477.6,305.2 477.5,304.8 478.1,303.5 477.8,303.9 478.1,303.1 478.0,303.2 478.3,301.4 478.1,302.1 478.1,300.0 478.4,300.4 478.0,301.9 478.2,302.8 478.6,302.7 478.7,303.9 478.7,304.2 478.6,304.2 478.7,306.3 479.1,305.3 478.6,306.3 479.1,307.2 478.8,307.8 479.2,309.0 479.1,309.5 479.4,310.0 479.0,310.8 479.2,310.2 479.5,310.8 479.3,312.1 479.6,312.2 480.0,314.1 479.8,314.2 479.7,315.6 479.7,315.0 479.8,316.6 480.1,316.4 480.1,317.8 480.1,318.3 480.5,318.3 480.3,318.9 480.4,319.2 480.6,320.0 480.5,321.3 480.9,320.1 481.5,319.4 481.4,319.5 481.9,320.0 481.6,320.4 481.9,320.4 482.0,322.2 482.0,322.3 482.0,322.9 481.9,323.8 482.2,324.8 482.1,325.0 482.0,325.1 482.6,325.4 482.6,326.0 482.5,328.0 482.4,328.5 482.3,328.5 482.9,329.6 482.6,329.8 482.9,330.7 482.9,331.0 482.6,331.8 482.9,332.1 483.2,332.0 483.1,333.0 483.1,334.7 482.8,334.7 483.0,335.1 482.8,336.0 483.4,336.7 483.0,337.6 483.1,337.0 483.3,338.2 483.2,339.7 483.3,340.3 483.2,340.6 483.0,340.4 483.5,341.7 483.6,341.7 483.3,342.3 483.5,342.3 483.4,344.1 483.3,344.1 483.9,345.8 483.5,345.1 483.4,345.5 483.9,347.3 483.6,347.4 484.0,347.2 484.1,349.3 483.7,349.7 484.1,349.6 484.3,350.0 484.0,350.8 484.1,352.3 484.2,352.5 484.6,352.5 484.1,353.8 484.1,355.0 484.2,354.7 484.4,356.0 484.8,356.3 484.3,356.3 484.8,356.7 485.0,358.5 484.6,358.2 484.7,359.4 484.7,360.0 484.8,360.8 485.2,360.9 485.0,360.6 485.3,362.9 485.5,363.3 485.2,362.5 485.3,364.2 485.5,364.0 485.9,365.4 485.9,365.6 486.1,366.4 486.4,366.6 486.6,367.2 486.9,367.3 487.2,369.0 487.7,368.4 488.7,369.4 489.0,369.8" stroke="#209060" stroke-width="1.4" fill="none" stroke-linejoin="round" stroke-linecap="round"/>
<polyline points="457.5,369.5 458.4,370.1 458.9,369.8 459.5,369.3 460.0,368.9 460.7,368.9 461.3,368.9 461.8,369.0 461.7,366.9 462.0,366.3 462.7,366.8 462.6,365.5 463.3,366.1 463.4,365.3 463.6,364.3 463.5,363.8 464.0,364.0 464.2,363.0 463.7,361.3 464.5,361.2 464.3,360.1 464.7,359.9 465.0,358.4 465.1,357.7 464.6,357.8 465.1,356.7 465.1,357.6 465.2,356.7 465.4,355.8 465.2,355.0 465.9,354.8 465.5,353.8 465.9,353.0 466.0,352.9 465.7,351.6 466.3,351.0 466.0,351.4 466.3,351.1 466.5,349.0 466.7,348.7 466.9,348.9 466.9,347.1 466.5,347.8 466.7,346.2 466.7,345.5 467.1,346.3 467.1,344.5 467.6,343.7 467.5,343.9 467.8,342.3 467.7,342.3 467.9,341.5 467.9,340.7 467.9,341.5 467.8,339.7 468.3,339.8 467.8,338.3 468.0,337.9 468.5,338.1 468.7,337.4 468.5,336.3 468.7,335.9 468.3,335.3 468.6,334.8 468.4,333.3 469.2,333.3 468.8,332.3 469.1,333.0 469.0,331.7 469.5,331.5 469.7,329.9 469.7,330.2 469.9,329.8 470.1,327.9 470.4,328.5 470.6,327.7 470.8,327.1 470.4,326.7 470.5,324.9 470.5,324.0 471.2,324.0 470.7,322.8 471.3,323.2 471.4,321.6 470.9,321.4 471.0,320.5 471.1,320.9 471.1,319.4 471.5,319.2 471.2,318.9 471.6,318.0 471.6,316.8 471.7,316.4 471.6,315.5 472.0,315.9 471.7,315.2 472.1,313.9 471.8,314.3 471.8,313.7 472.3,311.9 471.9,311.8 472.2,312.0 472.3,311.7 471.9,310.1 472.5,310.2 472.0,310.0 472.5,309.1 472.2,308.1 472.7,308.0 472.5,307.4 472.8,306.7 472.6,306.3 472.3,304.7 472.7,303.6 472.9,302.8 472.8,302.6 472.6,302.6 472.6,301.7 473.1,302.1 472.7,300.4 473.1,300.6 473.2,301.3 473.1,302.1 472.7,302.1 472.7,303.3 473.0,305.1 473.3,304.0 473.4,304.9 473.2,306.4 473.5,307.4 473.3,306.9 473.3,307.5 473.6,308.3 473.6,308.4 473.7,310.4 473.3,310.4 473.3,310.0 473.5,310.8 473.8,312.1 473.8,313.4 473.4,312.5 473.4,313.7 474.0,314.7 473.8,315.6 473.8,314.9 474.1,315.4 473.9,316.1 473.9,316.8 474.2,317.5 474.4,319.4 474.3,318.8 474.6,320.5 474.8,320.9 474.7,322.1 474.8,322.9 474.6,323.2 475.0,323.3 474.7,323.9 475.0,324.8 475.3,325.3 475.0,325.3 475.5,326.9 475.9,327.7 475.5,327.8 475.8,329.0 475.8,329.9 475.9,329.5 476.0,330.0 476.4,330.1 476.0,330.7 476.3,331.5 475.9,332.6 476.3,333.8 476.3,333.5 476.3,335.2 476.2,334.2 476.8,335.7 476.3,335.6 476.9,337.3 476.3,337.8 476.5,338.0 476.9,337.9 477.2,339.0 476.7,340.5 476.7,339.7 477.2,341.1 477.5,342.3 477.0,341.6 477.4,343.0 477.3,344.4 477.3,344.5 477.3,345.6 478.0,345.7 477.6,346.5 478.1,347.3 477.6,347.3 477.7,348.0 478.4,349.2 478.0,349.3 478.1,349.2 478.5,350.9 478.3,350.9 478.6,352.1 478.5,351.6 478.3,352.3 478.9,353.5 479.0,353.8 478.9,354.1 479.5,355.5 479.0,356.2 479.5,356.7 479.8,357.2 480.0,358.5 479.8,358.5 479.9,358.7 480.1,359.7 480.2,359.7 480.7,361.1 480.7,361.8 480.7,362.0 480.8,362.0 480.9,363.4 481.7,363.1 481.5,363.4 481.5,364.9 482.2,364.4 481.9,366.2 482.1,367.0 482.4,366.9 482.8,366.9 483.4,367.3 484.1,367.2 484.5,369.0 484.8,368.3 485.4,369.2" stroke="#d02030" stroke-width="1.4" fill="none" stroke-linejoin="round" stroke-linecap="round"/>
<line x1="228.6" y1="264.0" x2="321.5" y2="264.0" stroke="#0a0a0a" stroke-width="1.2"/>
<polygon points="325.5,264.0 321.0,262.0 321.0,266.0" fill="#0a0a0a"/>
<line x1="252.1" y1="308.2" x2="319.5" y2="308.2" stroke="#0a0a0a" stroke-width="1.2"/>
<polygon points="323.5,308.2 319.0,306.2 319.0,310.2" fill="#0a0a0a"/>
<line x1="389.5" y1="262.3" x2="431.5" y2="262.3" stroke="#0a0a0a" stroke-width="1.2"/>
<polygon points="435.5,262.3 431.0,260.3 431.0,264.3" fill="#0a0a0a"/>
<rect x="412.3" y="343.2" width="2.6" height="12.5" fill="#fff" stroke="none" stroke-width="1"/>
<rect x="429.9" y="343.2" width="2.6" height="12.5" fill="#fff" stroke="none" stroke-width="1"/>
<line x1="406.3" y1="349.0" x2="442.0" y2="349.0" stroke="#0a0a0a" stroke-width="1.2"/>
<polygon points="446,349.0 441.5,347.0 441.5,351.0" fill="#0a0a0a"/>
<text x="-0.15" y="418.85" font-size="17.5" text-anchor="start" font-weight="bold" fill="#000" stroke="none">D</text>
<line x1="31.2" y1="428.3" x2="31.2" y2="592.4" stroke="#111" stroke-width="1.3"/>
<line x1="31.2" y1="592.4" x2="200.2" y2="592.4" stroke="#111" stroke-width="1.3"/>
<line x1="28.7" y1="591.1" x2="31.2" y2="591.1" stroke="#111" stroke-width="1.1"/>
<text x="24.40" y="594.95" font-size="9.5" text-anchor="end" font-weight="normal" fill="#111" stroke="#111">0</text>
<line x1="28.7" y1="551.3" x2="31.2" y2="551.3" stroke="#111" stroke-width="1.1"/>
<text x="24.40" y="555.25" font-size="9.5" text-anchor="end" font-weight="normal" fill="#111" stroke="#111">40</text>
<line x1="28.7" y1="510.5" x2="31.2" y2="510.5" stroke="#111" stroke-width="1.1"/>
<text x="24.40" y="514.75" font-size="9.5" text-anchor="end" font-weight="normal" fill="#111" stroke="#111">80</text>
<line x1="28.7" y1="469.7" x2="31.2" y2="469.7" stroke="#111" stroke-width="1.1"/>
<text x="24.40" y="472.55" font-size="9.5" text-anchor="end" font-weight="normal" fill="#111" stroke="#111">120</text>
<line x1="28.7" y1="428.6" x2="31.2" y2="428.6" stroke="#111" stroke-width="1.1"/>
<text x="24.40" y="433.35" font-size="9.5" text-anchor="end" font-weight="normal" fill="#111" stroke="#111">160</text>
<line x1="31.2" y1="592.4" x2="31.2" y2="594.8" stroke="#222" stroke-width="0.9"/>
<line x1="40.58888888888889" y1="592.4" x2="40.58888888888889" y2="594.8" stroke="#222" stroke-width="0.9"/>
<line x1="49.977777777777774" y1="592.4" x2="49.977777777777774" y2="594.8" stroke="#222" stroke-width="0.9"/>
<line x1="59.36666666666667" y1="592.4" x2="59.36666666666667" y2="594.8" stroke="#222" stroke-width="0.9"/>
<line x1="68.75555555555556" y1="592.4" x2="68.75555555555556" y2="594.8" stroke="#222" stroke-width="0.9"/>
<line x1="78.14444444444445" y1="592.4" x2="78.14444444444445" y2="594.8" stroke="#222" stroke-width="0.9"/>
<line x1="87.53333333333333" y1="592.4" x2="87.53333333333333" y2="594.8" stroke="#222" stroke-width="0.9"/>
<line x1="96.92222222222223" y1="592.4" x2="96.92222222222223" y2="594.8" stroke="#222" stroke-width="0.9"/>
<line x1="106.31111111111112" y1="592.4" x2="106.31111111111112" y2="594.8" stroke="#222" stroke-width="0.9"/>
<line x1="115.7" y1="592.4" x2="115.7" y2="594.8" stroke="#222" stroke-width="0.9"/>
<line x1="125.08888888888889" y1="592.4" x2="125.08888888888889" y2="594.8" stroke="#222" stroke-width="0.9"/>
<line x1="134.4777777777778" y1="592.4" x2="134.4777777777778" y2="594.8" stroke="#222" stroke-width="0.9"/>
<line x1="143.86666666666667" y1="592.4" x2="143.86666666666667" y2="594.8" stroke="#222" stroke-width="0.9"/>
<line x1="153.25555555555556" y1="592.4" x2="153.25555555555556" y2="594.8" stroke="#222" stroke-width="0.9"/>
<line x1="162.64444444444445" y1="592.4" x2="162.64444444444445" y2="594.8" stroke="#222" stroke-width="0.9"/>
<line x1="172.03333333333333" y1="592.4" x2="172.03333333333333" y2="594.8" stroke="#222" stroke-width="0.9"/>
<line x1="181.42222222222222" y1="592.4" x2="181.42222222222222" y2="594.8" stroke="#222" stroke-width="0.9"/>
<line x1="190.8111111111111" y1="592.4" x2="190.8111111111111" y2="594.8" stroke="#222" stroke-width="0.9"/>
<line x1="200.2" y1="592.4" x2="200.2" y2="594.8" stroke="#222" stroke-width="0.9"/>
<text x="7.40" y="509.55" font-size="9.4" text-anchor="middle" font-weight="normal" fill="#111" stroke="#111" transform="rotate(-90 7.40 509.55)">Perforin (MFI)</text>
<line x1="35.894444444444446" y1="573.5" x2="35.894444444444446" y2="577.5" stroke="#666" stroke-width="0.9"/>
<line x1="34.394444444444446" y1="573.5" x2="37.394444444444446" y2="573.5" stroke="#666" stroke-width="0.9"/>
<line x1="34.394444444444446" y1="577.5" x2="37.394444444444446" y2="577.5" stroke="#666" stroke-width="0.9"/>
<line x1="45.28333333333333" y1="576.8" x2="45.28333333333333" y2="580.8" stroke="#666" stroke-width="0.9"/>
<line x1="43.78333333333333" y1="576.8" x2="46.78333333333333" y2="576.8" stroke="#666" stroke-width="0.9"/>
<line x1="43.78333333333333" y1="580.8" x2="46.78333333333333" y2="580.8" stroke="#666" stroke-width="0.9"/>
<line x1="54.67222222222222" y1="579.0" x2="54.67222222222222" y2="583.0" stroke="#666" stroke-width="0.9"/>
<line x1="53.17222222222222" y1="579.0" x2="56.17222222222222" y2="579.0" stroke="#666" stroke-width="0.9"/>
<line x1="53.17222222222222" y1="583.0" x2="56.17222222222222" y2="583.0" stroke="#666" stroke-width="0.9"/>
<line x1="73.45" y1="579.3" x2="73.45" y2="581.3" stroke="#666" stroke-width="0.9"/>
<line x1="71.95" y1="579.3" x2="74.95" y2="579.3" stroke="#666" stroke-width="0.9"/>
<line x1="71.95" y1="581.3" x2="74.95" y2="581.3" stroke="#666" stroke-width="0.9"/>
<line x1="82.83888888888889" y1="579.3" x2="82.83888888888889" y2="581.3" stroke="#666" stroke-width="0.9"/>
<line x1="81.33888888888889" y1="579.3" x2="84.33888888888889" y2="579.3" stroke="#666" stroke-width="0.9"/>
<line x1="81.33888888888889" y1="581.3" x2="84.33888888888889" y2="581.3" stroke="#666" stroke-width="0.9"/>
<line x1="92.22777777777777" y1="579.3" x2="92.22777777777777" y2="581.3" stroke="#666" stroke-width="0.9"/>
<line x1="90.72777777777777" y1="579.3" x2="93.72777777777777" y2="579.3" stroke="#666" stroke-width="0.9"/>
<line x1="90.72777777777777" y1="581.3" x2="93.72777777777777" y2="581.3" stroke="#666" stroke-width="0.9"/>
<line x1="129.78333333333333" y1="573.6" x2="129.78333333333333" y2="577.6" stroke="#666" stroke-width="0.9"/>
<line x1="128.28333333333333" y1="573.6" x2="131.28333333333333" y2="573.6" stroke="#666" stroke-width="0.9"/>
<line x1="128.28333333333333" y1="577.6" x2="131.28333333333333" y2="577.6" stroke="#666" stroke-width="0.9"/>
<line x1="139.17222222222222" y1="573.0" x2="139.17222222222222" y2="577.0" stroke="#666" stroke-width="0.9"/>
<line x1="137.67222222222222" y1="573.0" x2="140.67222222222222" y2="573.0" stroke="#666" stroke-width="0.9"/>
<line x1="137.67222222222222" y1="577.0" x2="140.67222222222222" y2="577.0" stroke="#666" stroke-width="0.9"/>
<line x1="148.5611111111111" y1="572.0" x2="148.5611111111111" y2="576.0" stroke="#666" stroke-width="0.9"/>
<line x1="147.0611111111111" y1="572.0" x2="150.0611111111111" y2="572.0" stroke="#666" stroke-width="0.9"/>
<line x1="147.0611111111111" y1="576.0" x2="150.0611111111111" y2="576.0" stroke="#666" stroke-width="0.9"/>
<line x1="176.72777777777776" y1="572.6" x2="176.72777777777776" y2="576.6" stroke="#666" stroke-width="0.9"/>
<line x1="175.22777777777776" y1="572.6" x2="178.22777777777776" y2="572.6" stroke="#666" stroke-width="0.9"/>
<line x1="175.22777777777776" y1="576.6" x2="178.22777777777776" y2="576.6" stroke="#666" stroke-width="0.9"/>
<line x1="186.11666666666667" y1="573.0" x2="186.11666666666667" y2="577.0" stroke="#666" stroke-width="0.9"/>
<line x1="184.61666666666667" y1="573.0" x2="187.61666666666667" y2="573.0" stroke="#666" stroke-width="0.9"/>
<line x1="184.61666666666667" y1="577.0" x2="187.61666666666667" y2="577.0" stroke="#666" stroke-width="0.9"/>
<line x1="195.50555555555556" y1="573.0" x2="195.50555555555556" y2="577.0" stroke="#666" stroke-width="0.9"/>
<line x1="194.00555555555556" y1="573.0" x2="197.00555555555556" y2="573.0" stroke="#666" stroke-width="0.9"/>
<line x1="194.00555555555556" y1="577.0" x2="197.00555555555556" y2="577.0" stroke="#666" stroke-width="0.9"/>
<line x1="35.894444444444446" y1="568.0" x2="35.894444444444446" y2="572.0" stroke="#666" stroke-width="0.9"/>
<line x1="34.394444444444446" y1="568.0" x2="37.394444444444446" y2="568.0" stroke="#666" stroke-width="0.9"/>
<line x1="34.394444444444446" y1="572.0" x2="37.394444444444446" y2="572.0" stroke="#666" stroke-width="0.9"/>
<line x1="45.28333333333333" y1="576.5" x2="45.28333333333333" y2="580.5" stroke="#666" stroke-width="0.9"/>
<line x1="43.78333333333333" y1="576.5" x2="46.78333333333333" y2="576.5" stroke="#666" stroke-width="0.9"/>
<line x1="43.78333333333333" y1="580.5" x2="46.78333333333333" y2="580.5" stroke="#666" stroke-width="0.9"/>
<line x1="54.67222222222222" y1="578.8" x2="54.67222222222222" y2="582.8" stroke="#666" stroke-width="0.9"/>
<line x1="53.17222222222222" y1="578.8" x2="56.17222222222222" y2="578.8" stroke="#666" stroke-width="0.9"/>
<line x1="53.17222222222222" y1="582.8" x2="56.17222222222222" y2="582.8" stroke="#666" stroke-width="0.9"/>
<line x1="73.45" y1="577.3" x2="73.45" y2="579.3" stroke="#666" stroke-width="0.9"/>
<line x1="71.95" y1="577.3" x2="74.95" y2="577.3" stroke="#666" stroke-width="0.9"/>
<line x1="71.95" y1="579.3" x2="74.95" y2="579.3" stroke="#666" stroke-width="0.9"/>
<line x1="82.83888888888889" y1="577.0" x2="82.83888888888889" y2="579.0" stroke="#666" stroke-width="0.9"/>
<line x1="81.33888888888889" y1="577.0" x2="84.33888888888889" y2="577.0" stroke="#666" stroke-width="0.9"/>
<line x1="81.33888888888889" y1="579.0" x2="84.33888888888889" y2="579.0" stroke="#666" stroke-width="0.9"/>
<line x1="92.22777777777777" y1="577.2" x2="92.22777777777777" y2="579.2" stroke="#666" stroke-width="0.9"/>
<line x1="90.72777777777777" y1="577.2" x2="93.72777777777777" y2="577.2" stroke="#666" stroke-width="0.9"/>
<line x1="90.72777777777777" y1="579.2" x2="93.72777777777777" y2="579.2" stroke="#666" stroke-width="0.9"/>
<line x1="129.78333333333333" y1="572.0" x2="129.78333333333333" y2="576.0" stroke="#666" stroke-width="0.9"/>
<line x1="128.28333333333333" y1="572.0" x2="131.28333333333333" y2="572.0" stroke="#666" stroke-width="0.9"/>
<line x1="128.28333333333333" y1="576.0" x2="131.28333333333333" y2="576.0" stroke="#666" stroke-width="0.9"/>
<line x1="139.17222222222222" y1="571.6" x2="139.17222222222222" y2="575.6" stroke="#666" stroke-width="0.9"/>
<line x1="137.67222222222222" y1="571.6" x2="140.67222222222222" y2="571.6" stroke="#666" stroke-width="0.9"/>
<line x1="137.67222222222222" y1="575.6" x2="140.67222222222222" y2="575.6" stroke="#666" stroke-width="0.9"/>
<line x1="148.5611111111111" y1="571.0" x2="148.5611111111111" y2="575.0" stroke="#666" stroke-width="0.9"/>
<line x1="147.0611111111111" y1="571.0" x2="150.0611111111111" y2="571.0" stroke="#666" stroke-width="0.9"/>
<line x1="147.0611111111111" y1="575.0" x2="150.0611111111111" y2="575.0" stroke="#666" stroke-width="0.9"/>
<line x1="176.72777777777776" y1="571.6" x2="176.72777777777776" y2="575.6" stroke="#666" stroke-width="0.9"/>
<line x1="175.22777777777776" y1="571.6" x2="178.22777777777776" y2="571.6" stroke="#666" stroke-width="0.9"/>
<line x1="175.22777777777776" y1="575.6" x2="178.22777777777776" y2="575.6" stroke="#666" stroke-width="0.9"/>
<line x1="186.11666666666667" y1="565.0" x2="186.11666666666667" y2="571.0" stroke="#666" stroke-width="0.9"/>
<line x1="184.61666666666667" y1="565.0" x2="187.61666666666667" y2="565.0" stroke="#666" stroke-width="0.9"/>
<line x1="184.61666666666667" y1="571.0" x2="187.61666666666667" y2="571.0" stroke="#666" stroke-width="0.9"/>
<line x1="195.50555555555556" y1="572.0" x2="195.50555555555556" y2="576.0" stroke="#666" stroke-width="0.9"/>
<line x1="194.00555555555556" y1="572.0" x2="197.00555555555556" y2="572.0" stroke="#666" stroke-width="0.9"/>
<line x1="194.00555555555556" y1="576.0" x2="197.00555555555556" y2="576.0" stroke="#666" stroke-width="0.9"/>
<line x1="35.894444444444446" y1="566.5" x2="35.894444444444446" y2="572.5" stroke="#666" stroke-width="0.9"/>
<line x1="34.394444444444446" y1="566.5" x2="37.394444444444446" y2="566.5" stroke="#666" stroke-width="0.9"/>
<line x1="34.394444444444446" y1="572.5" x2="37.394444444444446" y2="572.5" stroke="#666" stroke-width="0.9"/>
<line x1="45.28333333333333" y1="565.4" x2="45.28333333333333" y2="571.4" stroke="#666" stroke-width="0.9"/>
<line x1="43.78333333333333" y1="565.4" x2="46.78333333333333" y2="565.4" stroke="#666" stroke-width="0.9"/>
<line x1="43.78333333333333" y1="571.4" x2="46.78333333333333" y2="571.4" stroke="#666" stroke-width="0.9"/>
<line x1="54.67222222222222" y1="538.5" x2="54.67222222222222" y2="548.5" stroke="#666" stroke-width="0.9"/>
<line x1="53.17222222222222" y1="538.5" x2="56.17222222222222" y2="538.5" stroke="#666" stroke-width="0.9"/>
<line x1="53.17222222222222" y1="548.5" x2="56.17222222222222" y2="548.5" stroke="#666" stroke-width="0.9"/>
<line x1="73.45" y1="576.5" x2="73.45" y2="580.5" stroke="#666" stroke-width="0.9"/>
<line x1="71.95" y1="576.5" x2="74.95" y2="576.5" stroke="#666" stroke-width="0.9"/>
<line x1="71.95" y1="580.5" x2="74.95" y2="580.5" stroke="#666" stroke-width="0.9"/>
<line x1="82.83888888888889" y1="571.1" x2="82.83888888888889" y2="575.1" stroke="#666" stroke-width="0.9"/>
<line x1="81.33888888888889" y1="571.1" x2="84.33888888888889" y2="571.1" stroke="#666" stroke-width="0.9"/>
<line x1="81.33888888888889" y1="575.1" x2="84.33888888888889" y2="575.1" stroke="#666" stroke-width="0.9"/>
<line x1="92.22777777777777" y1="555.7" x2="92.22777777777777" y2="563.7" stroke="#666" stroke-width="0.9"/>
<line x1="90.72777777777777" y1="555.7" x2="93.72777777777777" y2="555.7" stroke="#666" stroke-width="0.9"/>
<line x1="90.72777777777777" y1="563.7" x2="93.72777777777777" y2="563.7" stroke="#666" stroke-width="0.9"/>
<line x1="129.78333333333333" y1="573.6" x2="129.78333333333333" y2="577.6" stroke="#666" stroke-width="0.9"/>
<line x1="128.28333333333333" y1="573.6" x2="131.28333333333333" y2="573.6" stroke="#666" stroke-width="0.9"/>
<line x1="128.28333333333333" y1="577.6" x2="131.28333333333333" y2="577.6" stroke="#666" stroke-width="0.9"/>
<line x1="139.17222222222222" y1="561.0" x2="139.17222222222222" y2="567.0" stroke="#666" stroke-width="0.9"/>
<line x1="137.67222222222222" y1="561.0" x2="140.67222222222222" y2="561.0" stroke="#666" stroke-width="0.9"/>
<line x1="137.67222222222222" y1="567.0" x2="140.67222222222222" y2="567.0" stroke="#666" stroke-width="0.9"/>
<line x1="148.5611111111111" y1="560.0" x2="148.5611111111111" y2="566.0" stroke="#666" stroke-width="0.9"/>
<line x1="147.0611111111111" y1="560.0" x2="150.0611111111111" y2="560.0" stroke="#666" stroke-width="0.9"/>
<line x1="147.0611111111111" y1="566.0" x2="150.0611111111111" y2="566.0" stroke="#666" stroke-width="0.9"/>
<line x1="176.72777777777776" y1="526.0" x2="176.72777777777776" y2="542.0" stroke="#666" stroke-width="0.9"/>
<line x1="175.22777777777776" y1="526.0" x2="178.22777777777776" y2="526.0" stroke="#666" stroke-width="0.9"/>
<line x1="175.22777777777776" y1="542.0" x2="178.22777777777776" y2="542.0" stroke="#666" stroke-width="0.9"/>
<line x1="186.11666666666667" y1="530.0" x2="186.11666666666667" y2="546.0" stroke="#666" stroke-width="0.9"/>
<line x1="184.61666666666667" y1="530.0" x2="187.61666666666667" y2="530.0" stroke="#666" stroke-width="0.9"/>
<line x1="184.61666666666667" y1="546.0" x2="187.61666666666667" y2="546.0" stroke="#666" stroke-width="0.9"/>
<line x1="195.50555555555556" y1="532.6" x2="195.50555555555556" y2="546.6" stroke="#666" stroke-width="0.9"/>
<line x1="194.00555555555556" y1="532.6" x2="197.00555555555556" y2="532.6" stroke="#666" stroke-width="0.9"/>
<line x1="194.00555555555556" y1="546.6" x2="197.00555555555556" y2="546.6" stroke="#666" stroke-width="0.9"/>
<line x1="35.894444444444446" y1="553.2" x2="35.894444444444446" y2="563.2" stroke="#666" stroke-width="0.9"/>
<line x1="34.394444444444446" y1="553.2" x2="37.394444444444446" y2="553.2" stroke="#666" stroke-width="0.9"/>
<line x1="34.394444444444446" y1="563.2" x2="37.394444444444446" y2="563.2" stroke="#666" stroke-width="0.9"/>
<line x1="45.28333333333333" y1="524.0" x2="45.28333333333333" y2="540.0" stroke="#666" stroke-width="0.9"/>
<line x1="43.78333333333333" y1="524.0" x2="46.78333333333333" y2="524.0" stroke="#666" stroke-width="0.9"/>
<line x1="43.78333333333333" y1="540.0" x2="46.78333333333333" y2="540.0" stroke="#666" stroke-width="0.9"/>
<line x1="54.67222222222222" y1="498.1" x2="54.67222222222222" y2="512.1" stroke="#666" stroke-width="0.9"/>
<line x1="53.17222222222222" y1="498.1" x2="56.17222222222222" y2="498.1" stroke="#666" stroke-width="0.9"/>
<line x1="53.17222222222222" y1="512.1" x2="56.17222222222222" y2="512.1" stroke="#666" stroke-width="0.9"/>
<line x1="73.45" y1="552.9" x2="73.45" y2="560.9" stroke="#666" stroke-width="0.9"/>
<line x1="71.95" y1="552.9" x2="74.95" y2="552.9" stroke="#666" stroke-width="0.9"/>
<line x1="71.95" y1="560.9" x2="74.95" y2="560.9" stroke="#666" stroke-width="0.9"/>
<line x1="82.83888888888889" y1="552.2" x2="82.83888888888889" y2="560.2" stroke="#666" stroke-width="0.9"/>
<line x1="81.33888888888889" y1="552.2" x2="84.33888888888889" y2="552.2" stroke="#666" stroke-width="0.9"/>
<line x1="81.33888888888889" y1="560.2" x2="84.33888888888889" y2="560.2" stroke="#666" stroke-width="0.9"/>
<line x1="92.22777777777777" y1="548.0" x2="92.22777777777777" y2="556.0" stroke="#666" stroke-width="0.9"/>
<line x1="90.72777777777777" y1="548.0" x2="93.72777777777777" y2="548.0" stroke="#666" stroke-width="0.9"/>
<line x1="90.72777777777777" y1="556.0" x2="93.72777777777777" y2="556.0" stroke="#666" stroke-width="0.9"/>
<line x1="129.78333333333333" y1="551.0" x2="129.78333333333333" y2="557.0" stroke="#666" stroke-width="0.9"/>
<line x1="128.28333333333333" y1="551.0" x2="131.28333333333333" y2="551.0" stroke="#666" stroke-width="0.9"/>
<line x1="128.28333333333333" y1="557.0" x2="131.28333333333333" y2="557.0" stroke="#666" stroke-width="0.9"/>
<line x1="139.17222222222222" y1="551.0" x2="139.17222222222222" y2="557.0" stroke="#666" stroke-width="0.9"/>
<line x1="137.67222222222222" y1="551.0" x2="140.67222222222222" y2="551.0" stroke="#666" stroke-width="0.9"/>
<line x1="137.67222222222222" y1="557.0" x2="140.67222222222222" y2="557.0" stroke="#666" stroke-width="0.9"/>
<line x1="148.5611111111111" y1="534.0" x2="148.5611111111111" y2="544.0" stroke="#666" stroke-width="0.9"/>
<line x1="147.0611111111111" y1="534.0" x2="150.0611111111111" y2="534.0" stroke="#666" stroke-width="0.9"/>
<line x1="147.0611111111111" y1="544.0" x2="150.0611111111111" y2="544.0" stroke="#666" stroke-width="0.9"/>
<line x1="176.72777777777776" y1="504.4" x2="176.72777777777776" y2="524.4" stroke="#666" stroke-width="0.9"/>
<line x1="175.22777777777776" y1="504.4" x2="178.22777777777776" y2="504.4" stroke="#666" stroke-width="0.9"/>
<line x1="175.22777777777776" y1="524.4" x2="178.22777777777776" y2="524.4" stroke="#666" stroke-width="0.9"/>
<line x1="186.11666666666667" y1="512.0" x2="186.11666666666667" y2="530.0" stroke="#666" stroke-width="0.9"/>
<line x1="184.61666666666667" y1="512.0" x2="187.61666666666667" y2="512.0" stroke="#666" stroke-width="0.9"/>
<line x1="184.61666666666667" y1="530.0" x2="187.61666666666667" y2="530.0" stroke="#666" stroke-width="0.9"/>
<line x1="195.50555555555556" y1="517.6" x2="195.50555555555556" y2="533.6" stroke="#666" stroke-width="0.9"/>
<line x1="194.00555555555556" y1="517.6" x2="197.00555555555556" y2="517.6" stroke="#666" stroke-width="0.9"/>
<line x1="194.00555555555556" y1="533.6" x2="197.00555555555556" y2="533.6" stroke="#666" stroke-width="0.9"/>
<line x1="35.894444444444446" y1="527.5" x2="35.894444444444446" y2="543.5" stroke="#666" stroke-width="0.9"/>
<line x1="34.394444444444446" y1="527.5" x2="37.394444444444446" y2="527.5" stroke="#666" stroke-width="0.9"/>
<line x1="34.394444444444446" y1="543.5" x2="37.394444444444446" y2="543.5" stroke="#666" stroke-width="0.9"/>
<line x1="45.28333333333333" y1="525.8" x2="45.28333333333333" y2="539.8" stroke="#666" stroke-width="0.9"/>
<line x1="43.78333333333333" y1="525.8" x2="46.78333333333333" y2="525.8" stroke="#666" stroke-width="0.9"/>
<line x1="43.78333333333333" y1="539.8" x2="46.78333333333333" y2="539.8" stroke="#666" stroke-width="0.9"/>
<line x1="54.67222222222222" y1="524.8" x2="54.67222222222222" y2="540.8" stroke="#666" stroke-width="0.9"/>
<line x1="53.17222222222222" y1="524.8" x2="56.17222222222222" y2="524.8" stroke="#666" stroke-width="0.9"/>
<line x1="53.17222222222222" y1="540.8" x2="56.17222222222222" y2="540.8" stroke="#666" stroke-width="0.9"/>
<line x1="73.45" y1="539.8" x2="73.45" y2="549.8" stroke="#666" stroke-width="0.9"/>
<line x1="71.95" y1="539.8" x2="74.95" y2="539.8" stroke="#666" stroke-width="0.9"/>
<line x1="71.95" y1="549.8" x2="74.95" y2="549.8" stroke="#666" stroke-width="0.9"/>
<line x1="82.83888888888889" y1="538.6" x2="82.83888888888889" y2="548.6" stroke="#666" stroke-width="0.9"/>
<line x1="81.33888888888889" y1="538.6" x2="84.33888888888889" y2="538.6" stroke="#666" stroke-width="0.9"/>
<line x1="81.33888888888889" y1="548.6" x2="84.33888888888889" y2="548.6" stroke="#666" stroke-width="0.9"/>
<line x1="92.22777777777777" y1="537.8" x2="92.22777777777777" y2="547.8" stroke="#666" stroke-width="0.9"/>
<line x1="90.72777777777777" y1="537.8" x2="93.72777777777777" y2="537.8" stroke="#666" stroke-width="0.9"/>
<line x1="90.72777777777777" y1="547.8" x2="93.72777777777777" y2="547.8" stroke="#666" stroke-width="0.9"/>
<line x1="129.78333333333333" y1="534.0" x2="129.78333333333333" y2="544.0" stroke="#666" stroke-width="0.9"/>
<line x1="128.28333333333333" y1="534.0" x2="131.28333333333333" y2="534.0" stroke="#666" stroke-width="0.9"/>
<line x1="128.28333333333333" y1="544.0" x2="131.28333333333333" y2="544.0" stroke="#666" stroke-width="0.9"/>
<line x1="139.17222222222222" y1="525.6" x2="139.17222222222222" y2="537.6" stroke="#666" stroke-width="0.9"/>
<line x1="137.67222222222222" y1="525.6" x2="140.67222222222222" y2="525.6" stroke="#666" stroke-width="0.9"/>
<line x1="137.67222222222222" y1="537.6" x2="140.67222222222222" y2="537.6" stroke="#666" stroke-width="0.9"/>
<line x1="148.5611111111111" y1="519.6" x2="148.5611111111111" y2="531.6" stroke="#666" stroke-width="0.9"/>
<line x1="147.0611111111111" y1="519.6" x2="150.0611111111111" y2="519.6" stroke="#666" stroke-width="0.9"/>
<line x1="147.0611111111111" y1="531.6" x2="150.0611111111111" y2="531.6" stroke="#666" stroke-width="0.9"/>
<line x1="176.72777777777776" y1="520.6" x2="176.72777777777776" y2="538.6" stroke="#666" stroke-width="0.9"/>
<line x1="175.22777777777776" y1="520.6" x2="178.22777777777776" y2="520.6" stroke="#666" stroke-width="0.9"/>
<line x1="175.22777777777776" y1="538.6" x2="178.22777777777776" y2="538.6" stroke="#666" stroke-width="0.9"/>
<line x1="186.11666666666667" y1="524.4" x2="186.11666666666667" y2="540.4" stroke="#666" stroke-width="0.9"/>
<line x1="184.61666666666667" y1="524.4" x2="187.61666666666667" y2="524.4" stroke="#666" stroke-width="0.9"/>
<line x1="184.61666666666667" y1="540.4" x2="187.61666666666667" y2="540.4" stroke="#666" stroke-width="0.9"/>
<line x1="195.50555555555556" y1="517.0" x2="195.50555555555556" y2="533.0" stroke="#666" stroke-width="0.9"/>
<line x1="194.00555555555556" y1="517.0" x2="197.00555555555556" y2="517.0" stroke="#666" stroke-width="0.9"/>
<line x1="194.00555555555556" y1="533.0" x2="197.00555555555556" y2="533.0" stroke="#666" stroke-width="0.9"/>
<line x1="35.894444444444446" y1="500.1" x2="35.894444444444446" y2="524.1" stroke="#666" stroke-width="0.9"/>
<line x1="34.394444444444446" y1="500.1" x2="37.394444444444446" y2="500.1" stroke="#666" stroke-width="0.9"/>
<line x1="34.394444444444446" y1="524.1" x2="37.394444444444446" y2="524.1" stroke="#666" stroke-width="0.9"/>
<line x1="45.28333333333333" y1="508.1" x2="45.28333333333333" y2="526.1" stroke="#666" stroke-width="0.9"/>
<line x1="43.78333333333333" y1="508.1" x2="46.78333333333333" y2="508.1" stroke="#666" stroke-width="0.9"/>
<line x1="43.78333333333333" y1="526.1" x2="46.78333333333333" y2="526.1" stroke="#666" stroke-width="0.9"/>
<line x1="54.67222222222222" y1="467.3" x2="54.67222222222222" y2="499.3" stroke="#666" stroke-width="0.9"/>
<line x1="53.17222222222222" y1="467.3" x2="56.17222222222222" y2="467.3" stroke="#666" stroke-width="0.9"/>
<line x1="53.17222222222222" y1="499.3" x2="56.17222222222222" y2="499.3" stroke="#666" stroke-width="0.9"/>
<line x1="73.45" y1="537.2" x2="73.45" y2="549.2" stroke="#666" stroke-width="0.9"/>
<line x1="71.95" y1="537.2" x2="74.95" y2="537.2" stroke="#666" stroke-width="0.9"/>
<line x1="71.95" y1="549.2" x2="74.95" y2="549.2" stroke="#666" stroke-width="0.9"/>
<line x1="82.83888888888889" y1="538.4" x2="82.83888888888889" y2="548.4" stroke="#666" stroke-width="0.9"/>
<line x1="81.33888888888889" y1="538.4" x2="84.33888888888889" y2="538.4" stroke="#666" stroke-width="0.9"/>
<line x1="81.33888888888889" y1="548.4" x2="84.33888888888889" y2="548.4" stroke="#666" stroke-width="0.9"/>
<line x1="92.22777777777777" y1="523.5" x2="92.22777777777777" y2="539.5" stroke="#666" stroke-width="0.9"/>
<line x1="90.72777777777777" y1="523.5" x2="93.72777777777777" y2="523.5" stroke="#666" stroke-width="0.9"/>
<line x1="90.72777777777777" y1="539.5" x2="93.72777777777777" y2="539.5" stroke="#666" stroke-width="0.9"/>
<line x1="129.78333333333333" y1="513.4" x2="129.78333333333333" y2="531.4" stroke="#666" stroke-width="0.9"/>
<line x1="128.28333333333333" y1="513.4" x2="131.28333333333333" y2="513.4" stroke="#666" stroke-width="0.9"/>
<line x1="128.28333333333333" y1="531.4" x2="131.28333333333333" y2="531.4" stroke="#666" stroke-width="0.9"/>
<line x1="139.17222222222222" y1="495.6" x2="139.17222222222222" y2="519.6" stroke="#666" stroke-width="0.9"/>
<line x1="137.67222222222222" y1="495.6" x2="140.67222222222222" y2="495.6" stroke="#666" stroke-width="0.9"/>
<line x1="137.67222222222222" y1="519.6" x2="140.67222222222222" y2="519.6" stroke="#666" stroke-width="0.9"/>
<line x1="148.5611111111111" y1="469.4" x2="148.5611111111111" y2="501.4" stroke="#666" stroke-width="0.9"/>
<line x1="147.0611111111111" y1="469.4" x2="150.0611111111111" y2="469.4" stroke="#666" stroke-width="0.9"/>
<line x1="147.0611111111111" y1="501.4" x2="150.0611111111111" y2="501.4" stroke="#666" stroke-width="0.9"/>
<line x1="176.72777777777776" y1="474.6" x2="176.72777777777776" y2="504.6" stroke="#666" stroke-width="0.9"/>
<line x1="175.22777777777776" y1="474.6" x2="178.22777777777776" y2="474.6" stroke="#666" stroke-width="0.9"/>
<line x1="175.22777777777776" y1="504.6" x2="178.22777777777776" y2="504.6" stroke="#666" stroke-width="0.9"/>
<line x1="186.11666666666667" y1="462.4" x2="186.11666666666667" y2="496.4" stroke="#666" stroke-width="0.9"/>
<line x1="184.61666666666667" y1="462.4" x2="187.61666666666667" y2="462.4" stroke="#666" stroke-width="0.9"/>
<line x1="184.61666666666667" y1="496.4" x2="187.61666666666667" y2="496.4" stroke="#666" stroke-width="0.9"/>
<line x1="195.50555555555556" y1="456.0" x2="195.50555555555556" y2="492.0" stroke="#666" stroke-width="0.9"/>
<line x1="194.00555555555556" y1="456.0" x2="197.00555555555556" y2="456.0" stroke="#666" stroke-width="0.9"/>
<line x1="194.00555555555556" y1="492.0" x2="197.00555555555556" y2="492.0" stroke="#666" stroke-width="0.9"/>
<polyline points="35.9,575.5 45.3,578.8 54.7,581.0" stroke="#0a0a0a" stroke-width="1.3" fill="none" stroke-linejoin="round" stroke-linecap="round"/>
<polyline points="73.5,580.3 82.8,580.3 92.2,580.3" stroke="#0a0a0a" stroke-width="1.3" fill="none" stroke-linejoin="round" stroke-linecap="round"/>
<polyline points="129.8,575.6 139.2,575.0 148.6,574.0" stroke="#0a0a0a" stroke-width="1.3" fill="none" stroke-linejoin="round" stroke-linecap="round"/>
<polyline points="176.7,574.6 186.1,575.0 195.5,575.0" stroke="#0a0a0a" stroke-width="1.3" fill="none" stroke-linejoin="round" stroke-linecap="round"/>
<polyline points="35.9,570.0 45.3,578.5 54.7,580.8" stroke="#0a0a0a" stroke-width="1.3" fill="none" stroke-linejoin="round" stroke-linecap="round"/>
<polyline points="73.5,578.3 82.8,578.0 92.2,578.2" stroke="#0a0a0a" stroke-width="1.3" fill="none" stroke-linejoin="round" stroke-linecap="round"/>
<polyline points="129.8,574.0 139.2,573.6 148.6,573.0" stroke="#0a0a0a" stroke-width="1.3" fill="none" stroke-linejoin="round" stroke-linecap="round"/>
<polyline points="176.7,573.6 186.1,568.0 195.5,574.0" stroke="#0a0a0a" stroke-width="1.3" fill="none" stroke-linejoin="round" stroke-linecap="round"/>
<polyline points="35.9,569.5 45.3,568.4 54.7,543.5" stroke="#0a0a0a" stroke-width="1.3" fill="none" stroke-linejoin="round" stroke-linecap="round"/>
<polyline points="73.5,578.5 82.8,573.1 92.2,559.7" stroke="#0a0a0a" stroke-width="1.3" fill="none" stroke-linejoin="round" stroke-linecap="round"/>
<polyline points="129.8,575.6 139.2,564.0 148.6,563.0" stroke="#0a0a0a" stroke-width="1.3" fill="none" stroke-linejoin="round" stroke-linecap="round"/>
<polyline points="176.7,534.0 186.1,538.0 195.5,539.6" stroke="#0a0a0a" stroke-width="1.3" fill="none" stroke-linejoin="round" stroke-linecap="round"/>
<polyline points="35.9,558.2 45.3,532.0 54.7,505.1" stroke="#0a0a0a" stroke-width="1.3" fill="none" stroke-linejoin="round" stroke-linecap="round"/>
<polyline points="73.5,556.9 82.8,556.2 92.2,552.0" stroke="#0a0a0a" stroke-width="1.3" fill="none" stroke-linejoin="round" stroke-linecap="round"/>
<polyline points="129.8,554.0 139.2,554.0 148.6,539.0" stroke="#0a0a0a" stroke-width="1.3" fill="none" stroke-linejoin="round" stroke-linecap="round"/>
<polyline points="176.7,514.4 186.1,521.0 195.5,525.6" stroke="#0a0a0a" stroke-width="1.3" fill="none" stroke-linejoin="round" stroke-linecap="round"/>
<polyline points="35.9,535.5 45.3,532.8 54.7,532.8" stroke="#0a0a0a" stroke-width="1.3" fill="none" stroke-linejoin="round" stroke-linecap="round"/>
<polyline points="73.5,544.8 82.8,543.6 92.2,542.8" stroke="#0a0a0a" stroke-width="1.3" fill="none" stroke-linejoin="round" stroke-linecap="round"/>
<polyline points="129.8,539.0 139.2,531.6 148.6,525.6" stroke="#0a0a0a" stroke-width="1.3" fill="none" stroke-linejoin="round" stroke-linecap="round"/>
<polyline points="176.7,529.6 186.1,532.4 195.5,525.0" stroke="#0a0a0a" stroke-width="1.3" fill="none" stroke-linejoin="round" stroke-linecap="round"/>
<polyline points="35.9,512.1 45.3,517.1 54.7,483.3" stroke="#0a0a0a" stroke-width="1.3" fill="none" stroke-linejoin="round" stroke-linecap="round"/>
<polyline points="73.5,543.2 82.8,543.4 92.2,531.5" stroke="#0a0a0a" stroke-width="1.3" fill="none" stroke-linejoin="round" stroke-linecap="round"/>
<polyline points="129.8,522.4 139.2,507.6 148.6,485.4" stroke="#0a0a0a" stroke-width="1.3" fill="none" stroke-linejoin="round" stroke-linecap="round"/>
<polyline points="176.7,489.6 186.1,479.4 195.5,474.0" stroke="#0a0a0a" stroke-width="1.3" fill="none" stroke-linejoin="round" stroke-linecap="round"/>
<polygon points="35.894444444444446,572.1 32.394444444444446,578.1 39.394444444444446,578.1" fill="#fff" stroke="#111" stroke-width="1"/>
<polygon points="45.28333333333333,575.4 41.78333333333333,581.4 48.78333333333333,581.4" fill="#fff" stroke="#111" stroke-width="1"/>
<polygon points="54.67222222222222,577.6 51.17222222222222,583.6 58.17222222222222,583.6" fill="#fff" stroke="#111" stroke-width="1"/>
<polygon points="73.45,576.9 69.95,582.9 76.95,582.9" fill="#fff" stroke="#111" stroke-width="1"/>
<polygon points="82.83888888888889,576.9 79.33888888888889,582.9 86.33888888888889,582.9" fill="#fff" stroke="#111" stroke-width="1"/>
<polygon points="92.22777777777777,576.9 88.72777777777777,582.9 95.72777777777777,582.9" fill="#fff" stroke="#111" stroke-width="1"/>
<polygon points="129.78333333333333,572.2 126.28333333333333,578.2 133.28333333333333,578.2" fill="#fff" stroke="#111" stroke-width="1"/>
<polygon points="139.17222222222222,571.6 135.67222222222222,577.6 142.67222222222222,577.6" fill="#fff" stroke="#111" stroke-width="1"/>
<polygon points="148.5611111111111,570.6 145.0611111111111,576.6 152.0611111111111,576.6" fill="#fff" stroke="#111" stroke-width="1"/>
<polygon points="176.72777777777776,571.2 173.22777777777776,577.2 180.22777777777776,577.2" fill="#fff" stroke="#111" stroke-width="1"/>
<polygon points="186.11666666666667,571.6 182.61666666666667,577.6 189.61666666666667,577.6" fill="#fff" stroke="#111" stroke-width="1"/>
<polygon points="195.50555555555556,571.6 192.00555555555556,577.6 199.00555555555556,577.6" fill="#fff" stroke="#111" stroke-width="1"/>
<circle cx="35.894444444444446" cy="570.0" r="2.8" fill="#fff" stroke="#111" stroke-width="1"/>
<circle cx="45.28333333333333" cy="578.5" r="2.8" fill="#fff" stroke="#111" stroke-width="1"/>
<circle cx="54.67222222222222" cy="580.8" r="2.8" fill="#fff" stroke="#111" stroke-width="1"/>
<circle cx="73.45" cy="578.3" r="2.8" fill="#fff" stroke="#111" stroke-width="1"/>
<circle cx="82.83888888888889" cy="578.0" r="2.8" fill="#fff" stroke="#111" stroke-width="1"/>
<circle cx="92.22777777777777" cy="578.2" r="2.8" fill="#fff" stroke="#111" stroke-width="1"/>
<circle cx="129.78333333333333" cy="574.0" r="2.8" fill="#fff" stroke="#111" stroke-width="1"/>
<circle cx="139.17222222222222" cy="573.6" r="2.8" fill="#fff" stroke="#111" stroke-width="1"/>
<circle cx="148.5611111111111" cy="573.0" r="2.8" fill="#fff" stroke="#111" stroke-width="1"/>
<circle cx="176.72777777777776" cy="573.6" r="2.8" fill="#fff" stroke="#111" stroke-width="1"/>
<circle cx="186.11666666666667" cy="568.0" r="2.8" fill="#fff" stroke="#111" stroke-width="1"/>
<circle cx="195.50555555555556" cy="574.0" r="2.8" fill="#fff" stroke="#111" stroke-width="1"/>
<rect x="33.19444444444444" y="566.8" width="5.4" height="5.4" fill="#fff" stroke="#111" stroke-width="1"/>
<rect x="42.58333333333333" y="565.6999999999999" width="5.4" height="5.4" fill="#fff" stroke="#111" stroke-width="1"/>
<rect x="51.972222222222214" y="540.8" width="5.4" height="5.4" fill="#fff" stroke="#111" stroke-width="1"/>
<rect x="70.75" y="575.8" width="5.4" height="5.4" fill="#fff" stroke="#111" stroke-width="1"/>
<rect x="80.13888888888889" y="570.4" width="5.4" height="5.4" fill="#fff" stroke="#111" stroke-width="1"/>
<rect x="89.52777777777777" y="557.0" width="5.4" height="5.4" fill="#fff" stroke="#111" stroke-width="1"/>
<rect x="127.08333333333333" y="572.9" width="5.4" height="5.4" fill="#fff" stroke="#111" stroke-width="1"/>
<rect x="136.47222222222223" y="561.3" width="5.4" height="5.4" fill="#fff" stroke="#111" stroke-width="1"/>
<rect x="145.86111111111111" y="560.3" width="5.4" height="5.4" fill="#fff" stroke="#111" stroke-width="1"/>
<rect x="174.02777777777777" y="531.3" width="5.4" height="5.4" fill="#fff" stroke="#111" stroke-width="1"/>
<rect x="183.41666666666669" y="535.3" width="5.4" height="5.4" fill="#fff" stroke="#111" stroke-width="1"/>
<rect x="192.80555555555557" y="536.9" width="5.4" height="5.4" fill="#fff" stroke="#111" stroke-width="1"/>
<polygon points="35.894444444444446,554.6 32.294444444444444,561.0 39.49444444444445,561.0" fill="#0a0a0a"/>
<polygon points="45.28333333333333,528.4 41.68333333333333,534.8 48.88333333333333,534.8" fill="#0a0a0a"/>
<polygon points="54.67222222222222,501.5 51.072222222222216,507.90000000000003 58.27222222222222,507.90000000000003" fill="#0a0a0a"/>
<polygon points="73.45,553.3 69.85000000000001,559.6999999999999 77.05,559.6999999999999" fill="#0a0a0a"/>
<polygon points="82.83888888888889,552.6 79.2388888888889,559.0 86.43888888888888,559.0" fill="#0a0a0a"/>
<polygon points="92.22777777777777,548.4 88.62777777777778,554.8 95.82777777777777,554.8" fill="#0a0a0a"/>
<polygon points="129.78333333333333,550.4 126.18333333333334,556.8 133.38333333333333,556.8" fill="#0a0a0a"/>
<polygon points="139.17222222222222,550.4 135.57222222222222,556.8 142.7722222222222,556.8" fill="#0a0a0a"/>
<polygon points="148.5611111111111,535.4 144.9611111111111,541.8 152.1611111111111,541.8" fill="#0a0a0a"/>
<polygon points="176.72777777777776,510.79999999999995 173.12777777777777,517.1999999999999 180.32777777777775,517.1999999999999" fill="#0a0a0a"/>
<polygon points="186.11666666666667,517.4 182.51666666666668,523.8 189.71666666666667,523.8" fill="#0a0a0a"/>
<polygon points="195.50555555555556,522.0 191.90555555555557,528.4 199.10555555555555,528.4" fill="#0a0a0a"/>
<circle cx="35.894444444444446" cy="535.5" r="3.1" fill="#0a0a0a"/>
<circle cx="45.28333333333333" cy="532.8" r="3.1" fill="#0a0a0a"/>
<circle cx="54.67222222222222" cy="532.8" r="3.1" fill="#0a0a0a"/>
<circle cx="73.45" cy="544.8" r="3.1" fill="#0a0a0a"/>
<circle cx="82.83888888888889" cy="543.6" r="3.1" fill="#0a0a0a"/>
<circle cx="92.22777777777777" cy="542.8" r="3.1" fill="#0a0a0a"/>
<circle cx="129.78333333333333" cy="539.0" r="3.1" fill="#0a0a0a"/>
<circle cx="139.17222222222222" cy="531.6" r="3.1" fill="#0a0a0a"/>
<circle cx="148.5611111111111" cy="525.6" r="3.1" fill="#0a0a0a"/>
<circle cx="176.72777777777776" cy="529.6" r="3.1" fill="#0a0a0a"/>
<circle cx="186.11666666666667" cy="532.4" r="3.1" fill="#0a0a0a"/>
<circle cx="195.50555555555556" cy="525.0" r="3.1" fill="#0a0a0a"/>
<rect x="32.99444444444445" y="509.20000000000005" width="5.8" height="5.8" fill="#0a0a0a" stroke="none" stroke-width="1"/>
<rect x="42.38333333333333" y="514.2" width="5.8" height="5.8" fill="#0a0a0a" stroke="none" stroke-width="1"/>
<rect x="51.77222222222222" y="480.40000000000003" width="5.8" height="5.8" fill="#0a0a0a" stroke="none" stroke-width="1"/>
<rect x="70.55" y="540.3000000000001" width="5.8" height="5.8" fill="#0a0a0a" stroke="none" stroke-width="1"/>
<rect x="79.93888888888888" y="540.5" width="5.8" height="5.8" fill="#0a0a0a" stroke="none" stroke-width="1"/>
<rect x="89.32777777777777" y="528.6" width="5.8" height="5.8" fill="#0a0a0a" stroke="none" stroke-width="1"/>
<rect x="126.88333333333333" y="519.5" width="5.8" height="5.8" fill="#0a0a0a" stroke="none" stroke-width="1"/>
<rect x="136.2722222222222" y="504.70000000000005" width="5.8" height="5.8" fill="#0a0a0a" stroke="none" stroke-width="1"/>
<rect x="145.6611111111111" y="482.5" width="5.8" height="5.8" fill="#0a0a0a" stroke="none" stroke-width="1"/>
<rect x="173.82777777777775" y="486.70000000000005" width="5.8" height="5.8" fill="#0a0a0a" stroke="none" stroke-width="1"/>
<rect x="183.21666666666667" y="476.5" width="5.8" height="5.8" fill="#0a0a0a" stroke="none" stroke-width="1"/>
<rect x="192.60555555555555" y="471.1" width="5.8" height="5.8" fill="#0a0a0a" stroke="none" stroke-width="1"/>
<circle cx="45.28333333333333" cy="568.4" r="2.8" fill="#fff" stroke="#111" stroke-width="1"/>
<line x1="206.5" y1="448.9" x2="231.2" y2="448.9" stroke="#111" stroke-width="1.3"/>
<rect x="215.52" y="445.41999999999996" width="6.96" height="6.96" fill="#0a0a0a" stroke="none" stroke-width="1"/>
<text x="239.2" y="452.4" font-size="9.8" fill="#111" stroke="#111">CD56<tspan font-size="7" font-weight="bold" dy="-3.8" dx="0.3">+</tspan><tspan dy="3.8" dx="0.2">CD8</tspan><tspan font-size="7.2" dy="-4.5" dx="0.2">high</tspan></text>
<line x1="206.5" y1="465.34999999999997" x2="231.2" y2="465.34999999999997" stroke="#111" stroke-width="1.3"/>
<circle cx="219" cy="465.34999999999997" r="3.7199999999999998" fill="#0a0a0a"/>
<text x="239.2" y="468.84999999999997" font-size="9.8" fill="#111" stroke="#111">CD56<tspan font-size="7" font-weight="bold" dy="-3.8" dx="0.3">+</tspan><tspan dy="3.8" dx="0.2">CD8</tspan><tspan font-size="7.2" dy="-4.5" dx="0.2">med</tspan></text>
<line x1="206.5" y1="481.79999999999995" x2="231.2" y2="481.79999999999995" stroke="#111" stroke-width="1.3"/>
<polygon points="219,477.47999999999996 214.68,485.15999999999997 223.32,485.15999999999997" fill="#0a0a0a"/>
<text x="239.2" y="485.29999999999995" font-size="9.8" fill="#111" stroke="#111">CD56<tspan font-size="7" font-weight="bold" dy="-3.8" dx="0.3">+</tspan><tspan dy="3.8" dx="0.2">CD8</tspan><tspan font-size="7.2" dy="-4.5" dx="0.2">low</tspan></text>
<line x1="206.5" y1="498.25" x2="231.2" y2="498.25" stroke="#111" stroke-width="1.3"/>
<rect x="215.085" y="494.335" width="7.83" height="7.83" fill="#fff" stroke="#111" stroke-width="1"/>
<text x="239.2" y="501.75" font-size="9.8" fill="#111" stroke="#111">CD56<tspan font-size="7" font-weight="bold" dy="-3.8" dx="0.3">-</tspan><tspan dy="3.8" dx="0.2">CD8</tspan><tspan font-size="7.2" dy="-4.5" dx="0.2">high</tspan></text>
<line x1="206.5" y1="514.6999999999999" x2="231.2" y2="514.6999999999999" stroke="#111" stroke-width="1.3"/>
<circle cx="219" cy="514.6999999999999" r="4.06" fill="#fff" stroke="#111" stroke-width="1"/>
<text x="239.2" y="518.1999999999999" font-size="9.8" fill="#111" stroke="#111">CD56<tspan font-size="7" font-weight="bold" dy="-3.8" dx="0.3">-</tspan><tspan dy="3.8" dx="0.2">CD8</tspan><tspan font-size="7.2" dy="-4.5" dx="0.2">med</tspan></text>
<line x1="206.5" y1="531.15" x2="231.2" y2="531.15" stroke="#111" stroke-width="1.3"/>
<polygon points="219,526.22 213.925,534.92 224.075,534.92" fill="#fff" stroke="#111" stroke-width="1"/>
<text x="239.2" y="534.65" font-size="9.8" fill="#111" stroke="#111">CD56<tspan font-size="7" font-weight="bold" dy="-3.8" dx="0.3">-</tspan><tspan dy="3.8" dx="0.2">CD8</tspan><tspan font-size="7.2" dy="-4.5" dx="0.2">low</tspan></text>
<text x="35.74" y="600.70" font-size="8.6" text-anchor="end" font-weight="normal" fill="#111" stroke="#111" transform="rotate(-45 35.74 600.70)">1:50</text>
<text x="47.38" y="600.90" font-size="8.6" text-anchor="end" font-weight="normal" fill="#111" stroke="#111" transform="rotate(-45 47.38 600.90)">1:25</text>
<text x="58.72" y="600.30" font-size="8.6" text-anchor="end" font-weight="normal" fill="#111" stroke="#111" transform="rotate(-45 58.72 600.30)">1:12.5</text>
<text x="76.95" y="600.70" font-size="8.6" text-anchor="end" font-weight="normal" fill="#111" stroke="#111" transform="rotate(-45 76.95 600.70)">1:50</text>
<text x="89.09" y="601.40" font-size="8.6" text-anchor="end" font-weight="normal" fill="#111" stroke="#111" transform="rotate(-45 89.09 601.40)">1:25</text>
<text x="101.38" y="600.80" font-size="8.6" text-anchor="end" font-weight="normal" fill="#111" stroke="#111" transform="rotate(-45 101.38 600.80)">1:12.5</text>
<text x="134.18" y="600.70" font-size="8.6" text-anchor="end" font-weight="normal" fill="#111" stroke="#111" transform="rotate(-45 134.18 600.70)">1:50</text>
<text x="145.12" y="600.90" font-size="8.6" text-anchor="end" font-weight="normal" fill="#111" stroke="#111" transform="rotate(-45 145.12 600.90)">1:25</text>
<text x="158.11" y="600.30" font-size="8.6" text-anchor="end" font-weight="normal" fill="#111" stroke="#111" transform="rotate(-45 158.11 600.30)">1:12.5</text>
<text x="179.88" y="600.70" font-size="8.6" text-anchor="end" font-weight="normal" fill="#111" stroke="#111" transform="rotate(-45 179.88 600.70)">1:50</text>
<text x="191.27" y="600.90" font-size="8.6" text-anchor="end" font-weight="normal" fill="#111" stroke="#111" transform="rotate(-45 191.27 600.90)">1:25</text>
<text x="203.31" y="600.30" font-size="8.6" text-anchor="end" font-weight="normal" fill="#111" stroke="#111" transform="rotate(-45 203.31 600.30)">1:12.5</text>
<text x="37.70" y="632.80" font-size="9.6" text-anchor="middle" font-weight="normal" fill="#111" stroke="#111">-</text>
<text x="83.50" y="632.80" font-size="9.6" text-anchor="middle" font-weight="normal" fill="#111" stroke="#111">+</text>
<text x="138.30" y="632.80" font-size="9.6" text-anchor="middle" font-weight="normal" fill="#111" stroke="#111">-</text>
<text x="186.70" y="632.80" font-size="9.6" text-anchor="middle" font-weight="normal" fill="#111" stroke="#111">+</text>
<line x1="31.2" y1="634.2" x2="107.5" y2="634.2" stroke="#111" stroke-width="1.1"/>
<line x1="120.8" y1="634.2" x2="196.2" y2="634.2" stroke="#111" stroke-width="1.1"/>
<text x="64.85" y="644.00" font-size="9.4" text-anchor="middle" font-weight="normal" fill="#111" stroke="#111">- PD98059</text>
<text x="159.60" y="644.00" font-size="9.3" text-anchor="middle" font-weight="normal" fill="#111" stroke="#111">+ PD98059</text>
<text x="209.50" y="634.00" font-size="9.7" text-anchor="start" font-weight="normal" fill="#111" stroke="#111">ICAM-2</text>
<text x="323.30" y="418.00" font-size="18" text-anchor="start" font-weight="bold" fill="#000" stroke="none">E</text>
<line x1="351.7" y1="426.8" x2="351.7" y2="575.3" stroke="#444" stroke-width="1"/>
<line x1="351.7" y1="575.3" x2="505" y2="575.3" stroke="#222" stroke-width="1"/>
<line x1="349.7" y1="575.3" x2="351.7" y2="575.3" stroke="#333" stroke-width="1"/>
<text x="349.95" y="579.10" font-size="11" text-anchor="end" font-weight="normal" fill="#111" stroke="#111">0</text>
<line x1="349.7" y1="558.8399999999999" x2="351.7" y2="558.8399999999999" stroke="#333" stroke-width="1"/>
<text x="349.95" y="562.64" font-size="11" text-anchor="end" font-weight="normal" fill="#111" stroke="#111">2</text>
<line x1="349.7" y1="542.38" x2="351.7" y2="542.38" stroke="#333" stroke-width="1"/>
<text x="349.95" y="546.18" font-size="11" text-anchor="end" font-weight="normal" fill="#111" stroke="#111">4</text>
<line x1="349.7" y1="525.92" x2="351.7" y2="525.92" stroke="#333" stroke-width="1"/>
<text x="349.95" y="529.72" font-size="11" text-anchor="end" font-weight="normal" fill="#111" stroke="#111">6</text>
<line x1="349.7" y1="509.4599999999999" x2="351.7" y2="509.4599999999999" stroke="#333" stroke-width="1"/>
<text x="349.95" y="513.26" font-size="11" text-anchor="end" font-weight="normal" fill="#111" stroke="#111">8</text>
<line x1="349.7" y1="492.99999999999994" x2="351.7" y2="492.99999999999994" stroke="#333" stroke-width="1"/>
<text x="349.95" y="496.80" font-size="11" text-anchor="end" font-weight="normal" fill="#111" stroke="#111">10</text>
<line x1="349.7" y1="476.53999999999996" x2="351.7" y2="476.53999999999996" stroke="#333" stroke-width="1"/>
<text x="349.95" y="480.34" font-size="11" text-anchor="end" font-weight="normal" fill="#111" stroke="#111">12</text>
<line x1="349.7" y1="460.0799999999999" x2="351.7" y2="460.0799999999999" stroke="#333" stroke-width="1"/>
<text x="349.95" y="463.88" font-size="11" text-anchor="end" font-weight="normal" fill="#111" stroke="#111">14</text>
<line x1="349.7" y1="443.61999999999995" x2="351.7" y2="443.61999999999995" stroke="#333" stroke-width="1"/>
<text x="349.95" y="447.42" font-size="11" text-anchor="end" font-weight="normal" fill="#111" stroke="#111">16</text>
<line x1="349.7" y1="427.15999999999997" x2="351.7" y2="427.15999999999997" stroke="#333" stroke-width="1"/>
<text x="349.95" y="430.96" font-size="11" text-anchor="end" font-weight="normal" fill="#111" stroke="#111">18</text>
<line x1="428.2" y1="575.3" x2="428.2" y2="577.5" stroke="#333" stroke-width="0.8"/>
<line x1="466.3" y1="575.3" x2="466.3" y2="577.5" stroke="#333" stroke-width="0.8"/>
<text x="332.40" y="498.75" font-size="10.9" text-anchor="middle" font-weight="normal" fill="#111" stroke="#111" transform="rotate(-90 332.40 498.75)">phospho-p44/42 (geo mean)</text>
<line x1="371.05" y1="524.1" x2="371.05" y2="529" stroke="#444" stroke-width="1"/>
<line x1="369.55" y1="524.1" x2="372.55" y2="524.1" stroke="#444" stroke-width="1"/>
<rect x="362.8" y="529" width="16.49999999999998" height="46.299999999999955" fill="#0a0a0a" stroke="none" stroke-width="1"/>
<line x1="409.45000000000005" y1="475.1" x2="409.45000000000005" y2="483.9" stroke="#444" stroke-width="1"/>
<line x1="407.95000000000005" y1="475.1" x2="410.95000000000005" y2="475.1" stroke="#444" stroke-width="1"/>
<rect x="401.3" y="483.9" width="16.29999999999999" height="91.39999999999998" fill="#0a0a0a" stroke="none" stroke-width="1"/>
<line x1="447.54999999999995" y1="496.2" x2="447.54999999999995" y2="503.1" stroke="#444" stroke-width="1"/>
<line x1="446.04999999999995" y1="496.2" x2="449.04999999999995" y2="496.2" stroke="#444" stroke-width="1"/>
<rect x="439.4" y="503.1" width="16.29999999999999" height="72.19999999999993" fill="#0a0a0a" stroke="none" stroke-width="1"/>
<line x1="485.75" y1="448.1" x2="485.75" y2="459.7" stroke="#444" stroke-width="1"/>
<line x1="484.25" y1="448.1" x2="487.25" y2="448.1" stroke="#444" stroke-width="1"/>
<rect x="477.59999999999997" y="459.7" width="16.300000000000047" height="115.59999999999997" fill="#0a0a0a" stroke="none" stroke-width="1"/>
<text x="375.65" y="584.15" font-size="11.2" text-anchor="end" font-weight="normal" fill="#111" stroke="#111" transform="rotate(-45 375.65 584.15)">(Fab) alone</text>
<text x="413.40" y="584.85" font-size="11.2" text-anchor="end" font-weight="normal" fill="#111" stroke="#111" transform="rotate(-45 413.40 584.85)">LFA-1 Xlink</text>
<text x="451.10" y="583.95" font-size="11.2" text-anchor="end" font-weight="normal" fill="#111" stroke="#111" transform="rotate(-45 451.10 583.95)">CD16 Xlink</text>
<text x="491.30" y="585.00" font-size="11.2" text-anchor="end" font-weight="normal" fill="#111" stroke="#111" transform="rotate(-45 491.30 585.00)">LFA-1+CD16 Xlink</text>
</svg>
</body></html>
